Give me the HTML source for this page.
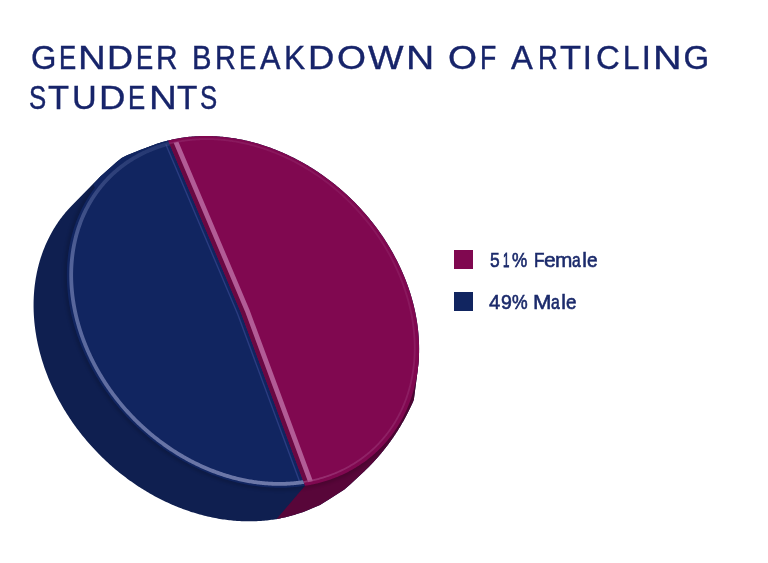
<!DOCTYPE html>
<html><head><meta charset="utf-8"><style>
html,body{margin:0;padding:0;background:#fff;}
body{width:768px;height:563px;position:relative;overflow:hidden;font-family:"Liberation Sans",sans-serif;-webkit-font-smoothing:antialiased;}
.tx{position:absolute;left:0;top:0;width:768px;height:563px;will-change:transform;}
svg{position:absolute;left:0;top:0;}
.w{position:absolute;color:#17246a;font-size:33px;line-height:33px;white-space:nowrap;-webkit-text-stroke:0.35px #17246a;transform-origin:0 0;}
.l{position:absolute;color:#1b2a6b;font-size:21px;line-height:21px;white-space:nowrap;transform-origin:0 0;-webkit-text-stroke:0.4px #1b2a6b;}
.lg{position:absolute;left:454px;width:19px;height:19px;}
</style></head><body>
<svg width="768" height="563" viewBox="0 0 768 563">
<defs>
<clipPath id="mc"><path d="M1604.56,-1034.36 L-994.69,2006.01 L525.49,3305.64 L3124.75,265.27Z"/></clipPath>
<clipPath id="nf"><path d="M304.93,485.82 L303.24,486.08 L301.55,486.32 L299.84,486.54 L298.13,486.74 L296.42,486.92 L294.70,487.09 L292.97,487.23 L291.24,487.36 L289.50,487.47 L287.76,487.56 L286.01,487.63 L284.26,487.69 L282.51,487.72 L280.75,487.74 L278.98,487.74 L277.22,487.72 L275.45,487.68 L273.67,487.62 L271.89,487.55 L270.11,487.46 L268.33,487.34 L266.54,487.21 L264.76,487.06 L262.97,486.90 L261.17,486.71 L259.38,486.51 L257.58,486.29 L255.78,486.05 L253.98,485.79 L252.18,485.51 L250.38,485.22 L248.58,484.90 L246.78,484.57 L244.97,484.22 L243.17,483.85 L241.37,483.47 L239.56,483.07 L237.76,482.64 L235.96,482.21 L234.16,481.75 L232.36,481.27 L230.56,480.78 L228.76,480.27 L226.96,479.74 L225.17,479.20 L223.37,478.63 L221.58,478.05 L219.79,477.45 L218.01,476.84 L216.22,476.21 L214.44,475.56 L212.67,474.89 L210.89,474.20 L209.12,473.50 L207.35,472.78 L205.59,472.05 L203.83,471.30 L202.07,470.53 L200.32,469.74 L198.57,468.94 L196.83,468.12 L195.09,467.29 L193.36,466.44 L191.63,465.57 L189.91,464.69 L188.19,463.79 L186.48,462.87 L184.77,461.94 L183.07,460.99 L181.38,460.03 L179.70,459.05 L178.02,458.06 L176.34,457.05 L174.68,456.03 L173.02,454.99 L171.37,453.93 L169.72,452.86 L168.09,451.78 L166.46,450.68 L164.84,449.57 L163.23,448.44 L161.62,447.30 L160.03,446.14 L158.44,444.97 L156.86,443.79 L155.29,442.59 L153.74,441.38 L152.18,440.16 L150.64,438.92 L149.11,437.67 L147.59,436.40 L146.08,435.12 L144.58,433.83 L143.09,432.53 L141.61,431.21 L140.14,429.88 L138.68,428.54 L137.23,427.19 L135.80,425.82 L134.37,424.44 L132.96,423.05 L131.56,421.65 L130.16,420.24 L128.79,418.82 L127.42,417.38 L126.06,415.93 L124.72,414.48 L123.39,413.01 L122.07,411.53 L120.77,410.04 L119.48,408.54 L118.20,407.03 L116.93,405.51 L115.68,403.98 L114.44,402.45 L113.21,400.90 L112.00,399.34 L110.80,397.77 L109.61,396.20 L108.44,394.61 L107.29,393.02 L106.14,391.42 L105.02,389.81 L103.90,388.19 L102.80,386.56 L101.72,384.93 L100.65,383.29 L99.59,381.64 L98.55,379.98 L97.53,378.32 L96.52,376.65 L95.53,374.97 L94.55,373.28 L93.58,371.59 L92.64,369.90 L91.70,368.19 L90.79,366.48 L89.89,364.77 L89.01,363.05 L88.14,361.32 L87.29,359.59 L86.45,357.86 L85.63,356.12 L84.83,354.37 L84.04,352.62 L83.28,350.87 L82.52,349.11 L81.79,347.35 L81.07,345.58 L80.37,343.81 L79.68,342.04 L79.02,340.26 L78.37,338.49 L77.73,336.70 L77.12,334.92 L76.52,333.13 L75.94,331.35 L75.38,329.55 L74.83,327.76 L74.30,325.97 L73.79,324.17 L73.30,322.38 L72.82,320.58 L72.37,318.78 L71.93,316.98 L71.51,315.18 L71.10,313.38 L70.72,311.58 L70.35,309.78 L70.00,307.98 L69.67,306.17 L69.36,304.38 L69.07,302.58 L68.79,300.78 L68.53,298.98 L68.29,297.19 L68.07,295.39 L67.87,293.60 L67.68,291.81 L67.52,290.02 L67.37,288.24 L67.24,286.45 L67.13,284.67 L67.03,282.90 L66.96,281.12 L66.91,279.35 L66.87,277.58 L66.85,275.82 L66.85,274.06 L66.87,272.30 L66.90,270.55 L66.96,268.80 L67.03,267.06 L67.12,265.32 L67.23,263.58 L67.36,261.85 L67.51,260.13 L67.68,258.41 L67.86,256.70 L68.06,254.99 L68.28,253.29 L68.52,251.60 L68.78,249.91 L69.06,248.22 L69.35,246.55 L69.66,244.88 L69.99,243.22 L70.34,241.57 L70.71,239.92 L71.09,238.28 L71.49,236.65 L71.91,235.02 L72.35,233.41 L72.81,231.80 L73.28,230.20 L73.77,228.61 L74.28,227.03 L74.81,225.46 L75.36,223.89 L75.92,222.34 L76.50,220.79 L77.10,219.26 L77.71,217.73 L78.34,216.21 L78.99,214.71 L79.66,213.21 L80.34,211.73 L81.04,210.25 L81.76,208.79 L82.50,207.33 L83.25,205.89 L84.02,204.46 L84.80,203.04 L85.60,201.63 L86.42,200.23 L87.26,198.85 L88.11,197.47 L88.97,196.11 L89.86,194.76 L90.76,193.42 L91.67,192.10 L92.60,190.79 L93.55,189.49 L94.51,188.20 L95.49,186.93 L96.48,185.67 L97.49,184.42 L98.52,183.18 L99.56,181.96 L100.61,180.76 L101.68,179.56 L102.76,178.38 L103.86,177.22 L104.98,176.07 L106.10,174.93 L107.25,173.81 L108.40,172.70 L109.57,171.61 L110.76,170.53 L111.96,169.46 L113.17,168.41 L114.39,167.38 L115.63,166.36 L116.89,165.36 L118.15,164.37 L119.43,163.39 L120.72,162.44 L122.03,161.50 L123.34,160.57 L124.67,159.66 L126.02,158.77 L127.37,157.89 L128.74,157.03 L130.12,156.18 L131.51,155.35 L132.91,154.54 L134.32,153.74 L135.75,152.96 L137.18,152.20 L138.63,151.45 L140.09,150.72 L141.56,150.01 L143.04,149.31 L144.53,148.64 L146.03,147.97 L147.54,147.33 L149.06,146.70 L150.59,146.09 L152.13,145.50 L153.68,144.92 L155.24,144.37 L156.81,143.83 L158.39,143.30 L159.97,142.80 L161.57,142.31 L163.17,141.84 L164.78,141.39 L166.40,140.96 L168.03,140.54 L241.00,313.00Z"/></clipPath>
<clipPath id="mf"><path d="M168.03,140.54 L169.75,140.13 L171.48,139.73 L173.22,139.35 L174.97,138.99 L176.72,138.65 L178.48,138.34 L180.25,138.04 L182.03,137.76 L183.81,137.50 L185.60,137.27 L187.40,137.05 L189.21,136.85 L191.02,136.68 L192.83,136.52 L194.65,136.39 L196.48,136.27 L198.31,136.18 L200.15,136.10 L202.00,136.05 L203.84,136.02 L205.70,136.00 L207.55,136.01 L209.41,136.04 L211.28,136.09 L213.15,136.16 L215.02,136.24 L216.89,136.35 L218.77,136.48 L220.65,136.63 L222.54,136.80 L224.42,137.00 L226.31,137.21 L228.20,137.44 L230.09,137.69 L231.98,137.96 L233.88,138.25 L235.77,138.57 L237.67,138.90 L239.57,139.25 L241.47,139.62 L243.36,140.02 L245.26,140.43 L247.16,140.86 L249.05,141.31 L250.95,141.78 L252.85,142.28 L254.74,142.79 L256.63,143.32 L258.52,143.87 L260.41,144.44 L262.30,145.03 L264.19,145.64 L266.07,146.27 L267.95,146.91 L269.82,147.58 L271.70,148.27 L273.57,148.97 L275.44,149.69 L277.30,150.44 L279.16,151.20 L281.01,151.98 L282.86,152.78 L284.71,153.59 L286.55,154.43 L288.39,155.28 L290.22,156.15 L292.04,157.04 L293.86,157.95 L295.68,158.88 L297.48,159.82 L299.28,160.78 L301.08,161.76 L302.87,162.75 L304.65,163.77 L306.42,164.80 L308.19,165.85 L309.95,166.91 L311.70,167.99 L313.44,169.09 L315.18,170.20 L316.90,171.33 L318.62,172.48 L320.33,173.65 L322.03,174.83 L323.72,176.02 L325.40,177.23 L327.07,178.46 L328.74,179.70 L330.39,180.96 L332.03,182.23 L333.66,183.52 L335.28,184.82 L336.90,186.14 L338.50,187.47 L340.08,188.82 L341.66,190.18 L343.23,191.56 L344.78,192.94 L346.32,194.35 L347.85,195.76 L349.37,197.19 L350.88,198.64 L352.37,200.09 L353.85,201.56 L355.32,203.04 L356.77,204.54 L358.22,206.05 L359.64,207.57 L361.06,209.10 L362.46,210.64 L363.85,212.20 L365.22,213.76 L366.58,215.34 L367.92,216.93 L369.25,218.53 L370.57,220.14 L371.87,221.77 L373.15,223.40 L374.43,225.04 L375.68,226.69 L376.92,228.36 L378.14,230.03 L379.35,231.71 L380.55,233.40 L381.72,235.10 L382.88,236.81 L384.03,238.53 L385.16,240.26 L386.27,241.99 L387.36,243.73 L388.44,245.48 L389.50,247.24 L390.55,249.01 L391.57,250.78 L392.58,252.56 L393.57,254.35 L394.55,256.14 L395.51,257.94 L396.45,259.75 L397.37,261.56 L398.27,263.38 L399.16,265.21 L400.03,267.04 L400.88,268.87 L401.71,270.71 L402.52,272.56 L403.31,274.40 L404.09,276.26 L404.85,278.12 L405.58,279.98 L406.30,281.84 L407.00,283.71 L407.68,285.58 L408.35,287.46 L408.99,289.34 L409.61,291.22 L410.22,293.10 L410.80,294.98 L411.37,296.87 L411.91,298.76 L412.44,300.65 L412.95,302.54 L413.43,304.44 L413.90,306.33 L414.35,308.22 L414.78,310.12 L415.18,312.01 L415.57,313.91 L415.94,315.80 L416.28,317.70 L416.61,319.59 L416.92,321.48 L417.21,323.37 L417.47,325.26 L417.72,327.15 L417.94,329.04 L418.15,330.92 L418.34,332.81 L418.50,334.69 L418.64,336.56 L418.77,338.44 L418.87,340.31 L418.96,342.18 L419.02,344.04 L419.06,345.90 L419.08,347.76 L419.09,349.61 L419.07,351.46 L419.03,353.31 L418.97,355.15 L418.89,356.98 L418.79,358.81 L418.67,360.63 L418.52,362.45 L418.36,364.26 L418.18,366.07 L417.98,367.87 L417.76,369.66 L417.51,371.45 L417.25,373.23 L416.97,375.00 L416.66,376.76 L416.34,378.52 L415.99,380.27 L415.63,382.01 L415.25,383.75 L414.84,385.47 L414.42,387.19 L413.97,388.90 L413.51,390.59 L413.03,392.28 L412.52,393.96 L412.00,395.64 L411.46,397.30 L410.90,398.95 L410.31,400.59 L409.71,402.22 L409.09,403.84 L408.45,405.45 L407.79,407.05 L407.11,408.64 L406.42,410.21 L405.70,411.78 L404.97,413.33 L404.21,414.87 L403.44,416.40 L402.65,417.92 L401.84,419.43 L401.01,420.92 L400.16,422.40 L399.30,423.87 L398.42,425.32 L397.52,426.76 L396.60,428.19 L395.66,429.61 L394.71,431.01 L393.73,432.39 L392.74,433.77 L391.74,435.13 L390.71,436.47 L389.67,437.80 L388.61,439.12 L387.54,440.42 L386.44,441.70 L385.34,442.97 L384.21,444.23 L383.07,445.47 L381.91,446.69 L380.74,447.90 L379.55,449.09 L378.34,450.27 L377.12,451.43 L375.88,452.58 L374.63,453.71 L373.36,454.82 L372.08,455.91 L370.78,456.99 L369.47,458.06 L368.14,459.10 L366.80,460.13 L365.44,461.14 L364.07,462.13 L362.69,463.11 L361.29,464.07 L359.87,465.01 L358.45,465.93 L357.01,466.83 L355.56,467.72 L354.09,468.59 L352.61,469.44 L351.12,470.27 L349.62,471.09 L348.10,471.88 L346.57,472.66 L345.03,473.42 L343.48,474.16 L341.91,474.88 L340.34,475.58 L338.75,476.26 L337.15,476.93 L335.55,477.57 L333.93,478.20 L332.30,478.80 L330.66,479.39 L329.00,479.96 L327.34,480.51 L325.67,481.03 L323.99,481.54 L322.30,482.03 L320.61,482.50 L318.90,482.95 L317.18,483.38 L315.46,483.79 L313.72,484.18 L311.98,484.55 L310.23,484.90 L308.47,485.23 L306.71,485.54 L304.93,485.82 L241.00,313.00Z"/></clipPath>
<clipPath id="ie"><path d="M378.06,446.05 L376.35,447.75 L374.60,449.41 L372.81,451.04 L371.00,452.63 L369.15,454.19 L367.28,455.71 L365.37,457.20 L363.43,458.65 L361.46,460.06 L359.46,461.44 L357.43,462.78 L355.38,464.08 L353.29,465.35 L351.18,466.58 L349.05,467.77 L346.88,468.92 L344.69,470.03 L342.48,471.10 L340.24,472.13 L337.97,473.13 L335.69,474.08 L333.38,474.99 L331.04,475.86 L328.69,476.70 L326.31,477.49 L323.92,478.24 L321.50,478.94 L319.07,479.61 L316.61,480.24 L314.14,480.82 L311.65,481.36 L309.14,481.86 L306.62,482.32 L304.08,482.74 L301.52,483.11 L298.95,483.44 L296.37,483.73 L293.77,483.97 L291.16,484.17 L288.54,484.33 L285.91,484.45 L283.26,484.53 L280.61,484.56 L277.95,484.55 L275.28,484.49 L272.60,484.40 L269.91,484.26 L267.22,484.07 L264.52,483.85 L261.81,483.58 L259.10,483.27 L256.39,482.92 L253.67,482.52 L250.95,482.09 L248.23,481.61 L245.51,481.08 L242.79,480.52 L240.06,479.91 L237.34,479.27 L234.62,478.58 L231.90,477.85 L229.19,477.08 L226.47,476.26 L223.76,475.41 L221.06,474.52 L218.36,473.58 L215.67,472.61 L212.98,471.60 L210.31,470.54 L207.63,469.45 L204.97,468.32 L202.32,467.15 L199.68,465.94 L197.05,464.69 L194.43,463.40 L191.82,462.08 L189.23,460.72 L186.64,459.32 L184.08,457.89 L181.52,456.42 L178.99,454.92 L176.46,453.37 L173.96,451.80 L171.47,450.19 L169.00,448.54 L166.55,446.86 L164.11,445.15 L161.70,443.40 L159.31,441.63 L156.93,439.82 L154.58,437.97 L152.25,436.10 L149.94,434.20 L147.66,432.26 L145.40,430.30 L143.16,428.30 L140.95,426.28 L138.76,424.23 L136.60,422.15 L134.47,420.04 L132.36,417.91 L130.28,415.75 L128.23,413.57 L126.21,411.36 L124.21,409.12 L122.25,406.86 L120.31,404.58 L118.41,402.27 L116.54,399.95 L114.69,397.60 L112.88,395.23 L111.10,392.83 L109.36,390.42 L107.65,387.99 L105.97,385.54 L104.32,383.07 L102.71,380.59 L101.14,378.08 L99.60,375.56 L98.09,373.03 L96.62,370.48 L95.19,367.91 L93.79,365.33 L92.43,362.74 L91.11,360.13 L89.83,357.52 L88.58,354.89 L87.37,352.25 L86.20,349.60 L85.07,346.94 L83.98,344.28 L82.93,341.60 L81.92,338.92 L80.95,336.23 L80.01,333.54 L79.12,330.84 L78.27,328.13 L77.46,325.42 L76.69,322.71 L75.96,319.99 L75.28,317.28 L74.63,314.56 L74.03,311.84 L73.47,309.12 L72.95,306.40 L72.47,303.68 L72.04,300.97 L71.64,298.26 L71.29,295.55 L70.99,292.84 L70.72,290.14 L70.50,287.45 L70.32,284.76 L70.18,282.07 L70.09,279.40 L70.04,276.73 L70.03,274.08 L70.07,271.43 L70.14,268.79 L70.26,266.16 L70.43,263.54 L70.63,260.94 L70.88,258.35 L71.17,255.77 L71.51,253.20 L71.89,250.65 L72.31,248.12 L72.77,245.60 L73.27,243.10 L73.82,240.61 L74.40,238.14 L75.03,235.69 L75.71,233.26 L76.42,230.85 L77.17,228.46 L77.97,226.09 L78.80,223.74 L79.68,221.41 L80.60,219.11 L81.55,216.82 L82.55,214.57 L83.59,212.33 L84.67,210.12 L85.78,207.94 L86.94,205.78 L88.13,203.65 L89.36,201.54 L90.63,199.46 L91.94,197.41 L93.29,195.39 L94.67,193.40 L96.09,191.43 L97.55,189.50 L99.04,187.60 L100.56,185.72 L102.13,183.88 L103.73,182.07 L105.36,180.29 L107.02,178.55 L108.72,176.84 L110.46,175.16 L112.22,173.52 L114.02,171.91 L115.85,170.33 L117.72,168.79 L119.61,167.29 L121.53,165.82 L123.49,164.38 L125.47,162.99 L127.48,161.63 L129.52,160.31 L131.59,159.02 L133.69,157.78 L135.82,156.57 L137.97,155.40 L140.14,154.27 L142.35,153.17 L144.57,152.12 L146.82,151.11 L149.10,150.14 L151.40,149.20 L153.72,148.31 L156.06,147.46 L158.43,146.65 L160.82,145.88 L163.22,145.15 L165.65,144.46 L168.09,143.81 L170.56,143.21 L173.04,142.65 L175.54,142.13 L178.05,141.65 L180.59,141.21 L183.13,140.82 L185.70,140.47 L188.27,140.16 L190.86,139.89 L193.47,139.67 L196.08,139.48 L198.71,139.35 L201.35,139.25 L204.00,139.20 L206.65,139.19 L209.32,139.22 L212.00,139.29 L214.68,139.41 L217.37,139.57 L220.07,139.78 L222.77,140.02 L225.47,140.31 L228.19,140.64 L230.90,141.02 L233.62,141.43 L236.34,141.89 L239.06,142.39 L241.78,142.94 L244.51,143.52 L247.23,144.15 L249.95,144.82 L252.67,145.53 L255.39,146.28 L258.11,147.07 L260.82,147.90 L263.52,148.77 L266.22,149.69 L268.92,150.64 L271.61,151.64 L274.29,152.67 L276.97,153.74 L279.63,154.86 L282.29,156.01 L284.93,157.20 L287.57,158.43 L290.20,159.69 L292.81,161.00 L295.41,162.34 L298.00,163.72 L300.58,165.13 L303.14,166.58 L305.68,168.07 L308.21,169.59 L310.73,171.15 L313.22,172.75 L315.70,174.37 L318.16,176.04 L320.61,177.73 L323.03,179.46 L325.43,181.22 L327.82,183.02 L330.18,184.84 L332.52,186.70 L334.84,188.59 L337.14,190.51 L339.41,192.46 L341.66,194.44 L343.88,196.45 L346.08,198.49 L348.25,200.55 L350.40,202.64 L352.52,204.76 L354.61,206.91 L356.68,209.08 L358.72,211.28 L360.73,213.50 L362.71,215.75 L364.66,218.02 L366.58,220.31 L368.47,222.63 L370.32,224.97 L372.15,227.33 L373.94,229.71 L375.71,232.11 L377.44,234.54 L379.13,236.98 L380.79,239.44 L382.42,241.91 L384.01,244.41 L385.57,246.92 L387.10,249.45 L388.58,251.99 L390.03,254.55 L391.45,257.12 L392.83,259.71 L394.17,262.31 L395.47,264.92 L396.73,267.54 L397.96,270.17 L399.15,272.82 L400.30,275.47 L401.41,278.13 L402.48,280.80 L403.52,283.48 L404.51,286.17 L405.46,288.86 L406.37,291.56 L407.24,294.26 L408.07,296.97 L408.86,299.68 L409.61,302.39 L410.32,305.11 L410.99,307.83 L411.61,310.55 L412.19,313.27 L412.73,315.98 L413.23,318.70 L413.69,321.42 L414.10,324.13 L414.47,326.84 L414.80,329.55 L415.09,332.25 L415.33,334.95 L415.53,337.64 L415.69,340.33 L415.80,343.01 L415.88,345.68 L415.90,348.34 L415.89,350.99 L415.83,353.64 L415.74,356.27 L415.59,358.89 L415.41,361.50 L415.18,364.10 L414.91,366.69 L414.60,369.26 L414.24,371.82 L413.84,374.36 L413.40,376.89 L412.92,379.40 L412.40,381.89 L411.83,384.37 L411.22,386.83 L410.57,389.27 L409.88,391.69 L409.14,394.09 L408.37,396.47 L407.55,398.83 L406.70,401.17 L405.80,403.49 L404.86,405.78 L403.89,408.05 L402.87,410.30 L401.81,412.52 L400.71,414.72 L399.58,416.89 L398.40,419.04 L397.19,421.15 L395.94,423.25 L394.65,425.31 L393.32,427.35 L391.96,429.35 L390.56,431.33 L389.12,433.28 L387.65,435.20 L386.14,437.09 L384.59,438.95 L383.01,440.77 L381.40,442.56 L379.75,444.33 L378.06,446.05Z"/></clipPath>
<clipPath id="sd"><path d="M348.90,482.65 L347.91,483.61 L346.91,484.56 L345.91,485.50 L344.89,486.43 L343.86,487.35 L342.83,488.26 L341.78,489.15 L340.72,490.04 L339.66,490.92 L338.58,491.78 L337.49,492.63 L336.40,493.47 L335.29,494.30 L334.18,495.12 L333.05,495.93 L331.92,496.72 L330.78,497.50 L329.62,498.28 L328.46,499.03 L327.29,499.78 L326.11,500.52 L324.93,501.24 L323.73,501.95 L322.53,502.65 L321.31,503.34 L320.09,504.02 L318.86,504.68 L317.62,505.33 L316.38,505.97 L315.12,506.59 L313.86,507.21 L312.59,507.81 L311.31,508.40 L310.03,508.97 L308.74,509.53 L307.44,510.09 L306.13,510.62 L304.81,511.15 L303.49,511.66 L302.16,512.16 L300.83,512.65 L299.49,513.12 L298.14,513.58 L296.78,514.03 L295.42,514.46 L294.05,514.89 L292.67,515.29 L291.29,515.69 L289.91,516.07 L288.51,516.44 L287.11,516.80 L285.71,517.14 L284.30,517.47 L282.88,517.79 L281.46,518.09 L280.03,518.38 L278.60,518.65 L277.16,518.92 L275.72,519.17 L274.27,519.40 L272.82,519.63 L271.36,519.84 L269.90,520.03 L268.44,520.21 L266.97,520.38 L265.49,520.54 L264.01,520.68 L262.53,520.81 L261.04,520.92 L259.55,521.02 L258.06,521.11 L256.56,521.19 L255.06,521.25 L253.56,521.29 L252.05,521.33 L250.54,521.35 L249.03,521.35 L247.51,521.35 L245.99,521.33 L244.47,521.29 L242.94,521.24 L241.42,521.18 L239.89,521.11 L238.36,521.02 L236.82,520.92 L235.29,520.80 L233.75,520.67 L232.21,520.53 L230.67,520.37 L229.13,520.20 L227.58,520.02 L226.04,519.82 L224.49,519.61 L222.95,519.39 L221.40,519.15 L219.85,518.90 L218.30,518.64 L216.75,518.36 L215.20,518.07 L213.65,517.77 L212.10,517.45 L210.55,517.12 L209.00,516.78 L207.45,516.42 L205.90,516.05 L204.35,515.67 L202.80,515.27 L201.25,514.86 L199.70,514.44 L198.16,514.00 L196.61,513.56 L195.07,513.09 L193.52,512.62 L191.98,512.13 L190.44,511.63 L188.90,511.12 L187.36,510.59 L185.83,510.05 L184.30,509.50 L182.76,508.94 L181.23,508.36 L179.71,507.77 L178.18,507.17 L176.66,506.56 L175.14,505.93 L173.62,505.29 L172.11,504.64 L170.60,503.98 L169.09,503.30 L167.59,502.61 L166.08,501.91 L164.59,501.20 L163.09,500.48 L161.60,499.74 L160.11,498.99 L158.63,498.23 L157.15,497.46 L155.68,496.68 L154.21,495.88 L152.74,495.07 L151.28,494.26 L149.82,493.43 L148.37,492.58 L146.92,491.73 L145.48,490.87 L144.04,489.99 L142.61,489.10 L141.18,488.21 L139.76,487.30 L138.34,486.38 L136.93,485.45 L135.52,484.51 L134.12,483.55 L132.73,482.59 L131.34,481.62 L129.96,480.63 L128.58,479.64 L127.22,478.63 L125.85,477.62 L124.50,476.59 L123.15,475.56 L121.80,474.51 L120.47,473.46 L119.14,472.39 L117.81,471.31 L116.50,470.23 L115.19,469.13 L113.89,468.03 L112.60,466.92 L111.31,465.79 L110.03,464.66 L108.76,463.52 L107.50,462.37 L106.24,461.21 L105.00,460.04 L103.76,458.86 L102.53,457.67 L101.31,456.48 L100.09,455.27 L98.89,454.06 L97.69,452.84 L96.50,451.61 L95.32,450.37 L94.15,449.12 L92.99,447.87 L91.84,446.61 L90.69,445.34 L89.56,444.06 L88.43,442.77 L87.32,441.48 L86.21,440.18 L85.11,438.87 L84.03,437.56 L82.95,436.23 L81.88,434.90 L80.82,433.57 L79.78,432.22 L78.74,430.87 L77.71,429.52 L76.69,428.15 L75.68,426.78 L74.69,425.41 L73.70,424.02 L72.72,422.64 L71.76,421.24 L70.80,419.84 L69.86,418.43 L68.92,417.02 L68.00,415.60 L67.09,414.18 L66.19,412.75 L65.30,411.32 L64.42,409.88 L63.55,408.43 L62.70,406.98 L61.85,405.53 L61.02,404.07 L60.19,402.61 L59.38,401.14 L58.58,399.67 L57.80,398.19 L57.02,396.71 L56.26,395.22 L55.50,393.73 L54.76,392.24 L54.04,390.74 L53.32,389.24 L52.61,387.74 L51.92,386.23 L51.24,384.72 L50.57,383.21 L49.92,381.69 L49.27,380.17 L48.64,378.65 L48.02,377.13 L47.42,375.60 L46.82,374.07 L46.24,372.53 L45.67,371.00 L45.12,369.46 L44.57,367.92 L44.04,366.38 L43.52,364.84 L43.02,363.30 L42.53,361.75 L42.05,360.20 L41.58,358.66 L41.13,357.11 L40.68,355.56 L40.26,354.00 L39.84,352.45 L39.44,350.90 L39.05,349.34 L38.67,347.79 L38.31,346.24 L37.96,344.68 L37.63,343.13 L37.30,341.57 L36.99,340.02 L36.70,338.46 L36.41,336.91 L36.14,335.35 L35.89,333.80 L35.64,332.25 L35.41,330.70 L35.20,329.15 L34.99,327.60 L34.80,326.05 L34.63,324.50 L34.47,322.95 L34.32,321.41 L34.18,319.87 L34.06,318.33 L33.95,316.79 L33.85,315.25 L33.77,313.72 L33.70,312.18 L33.65,310.65 L33.61,309.13 L33.58,307.60 L33.57,306.08 L33.57,304.56 L33.58,303.04 L33.60,301.53 L33.64,300.02 L33.70,298.51 L33.76,297.01 L33.85,295.51 L33.94,294.01 L34.05,292.52 L34.17,291.03 L34.30,289.55 L34.45,288.07 L34.61,286.59 L34.79,285.12 L34.97,283.65 L35.18,282.19 L35.39,280.73 L35.62,279.27 L35.86,277.82 L36.12,276.38 L36.39,274.94 L36.67,273.51 L36.96,272.08 L37.27,270.65 L37.59,269.24 L37.93,267.83 L38.28,266.42 L38.64,265.02 L39.01,263.62 L39.40,262.24 L39.80,260.85 L40.21,259.48 L40.64,258.11 L41.08,256.74 L41.53,255.39 L42.00,254.04 L42.48,252.70 L42.97,251.36 L43.47,250.03 L43.99,248.71 L44.52,247.39 L45.06,246.09 L45.62,244.79 L46.18,243.49 L46.77,242.21 L47.36,240.93 L47.96,239.66 L48.58,238.40 L49.21,237.15 L49.85,235.90 L50.51,234.66 L51.17,233.43 L51.85,232.21 L52.55,231.00 L53.25,229.80 L53.96,228.60 L54.69,227.41 L55.43,226.24 L56.18,225.07 L56.94,223.91 L57.72,222.76 L58.51,221.62 L59.30,220.48 L60.11,219.36 L60.93,218.25 L61.77,217.14 L62.61,216.05 L63.47,214.96 L64.33,213.89 L65.21,212.82 L66.10,211.77 L67.00,210.72 L67.91,209.69 L68.83,208.66 L69.76,207.65 L70.71,206.64 L71.66,205.65 L72.63,204.67 L73.60,203.69 L74.59,202.73 L75.58,201.78 L76.59,200.84 L77.61,199.91 L78.63,198.99 L79.67,198.08 L80.72,197.18 L81.78,196.30 L82.84,195.42 L83.92,194.56 L85.01,193.71 L86.10,192.87 L87.21,192.04 L88.32,191.22 L89.45,190.41 L90.58,189.62 L91.72,188.83 L92.87,188.06 L94.04,187.30 L95.20,186.56 L96.38,185.82 L97.57,185.10 L98.77,184.38 L99.97,183.69 L101.18,183.00 L102.41,182.32 L103.64,181.66 L104.87,181.01 L106.12,180.37 L107.37,179.75 L108.64,179.13 L109.91,178.53 L111.18,177.94 L112.47,177.37 L113.76,176.80 L115.06,176.25 L116.37,175.71 L117.68,175.19 L119.00,174.68 L120.33,174.18 L121.67,173.69 L123.01,173.22 L124.36,172.76 L125.72,172.31 L127.08,171.87 L128.45,171.45 L129.82,171.04 L131.20,170.65 L132.59,170.27 L133.99,169.90 L135.38,169.54 L136.79,169.20 L138.20,168.87 L139.62,168.55 L141.04,168.25 L142.47,167.96 L143.90,167.68 L145.33,167.42 L146.78,167.17 L148.22,166.93 L149.68,166.71 L151.13,166.50 L152.60,166.31 L154.06,166.12 L155.53,165.96 L157.01,165.80 L158.48,165.66 L159.97,165.53 L161.45,165.41 L162.94,165.31 L164.44,165.23 L165.94,165.15 L167.44,165.09 L168.94,165.04 L170.45,165.01 L171.96,164.99 L173.47,164.98 L174.99,164.99 L176.51,165.01 L178.03,165.05 L179.56,165.09 L181.08,165.16 L182.61,165.23 L184.14,165.32 L185.68,165.42 L187.21,165.54 L188.75,165.67 L190.29,165.81 L191.83,165.96 L193.37,166.13 L194.91,166.32 L196.46,166.51 L198.00,166.72 L199.55,166.95 L201.10,167.18 L202.65,167.43 L204.20,167.70 L205.75,167.98 L207.30,168.27 L208.85,168.57 L210.40,168.89 L211.95,169.22 L213.50,169.56 L215.05,169.92 L216.60,170.29 L218.15,170.67 L219.70,171.07 L221.25,171.48 L222.79,171.90 L224.34,172.33 L225.89,172.78 L227.43,173.24 L228.97,173.72 L230.52,174.21 L232.06,174.71 L233.60,175.22 L235.13,175.74 L236.67,176.28 L238.20,176.83 L239.73,177.40 L241.26,177.97 L242.79,178.56 L244.32,179.17 L245.84,179.78 L247.36,180.41 L248.87,181.05 L250.39,181.70 L251.90,182.36 L253.41,183.04 L254.91,183.72 L256.41,184.42 L257.91,185.14 L259.41,185.86 L260.90,186.60 L262.38,187.35 L263.87,188.11 L265.35,188.88 L266.82,189.66 L268.29,190.46 L269.76,191.26 L271.22,192.08 L272.68,192.91 L274.13,193.75 L275.58,194.61 L277.02,195.47 L278.46,196.35 L279.89,197.23 L281.32,198.13 L282.74,199.04 L284.16,199.96 L285.57,200.89 L286.97,201.83 L288.37,202.78 L289.77,203.75 L291.16,204.72 L292.54,205.70 L293.91,206.70 L295.28,207.70 L296.65,208.72 L298.00,209.75 L299.35,210.78 L300.70,211.83 L302.03,212.88 L303.36,213.95 L304.68,215.02 L306.00,216.11 L307.31,217.20 L308.61,218.31 L309.90,219.42 L311.19,220.55 L312.47,221.68 L313.74,222.82 L315.00,223.97 L316.25,225.13 L317.50,226.30 L318.74,227.48 L319.97,228.67 L321.19,229.86 L322.41,231.07 L323.61,232.28 L324.81,233.50 L326.00,234.73 L327.18,235.97 L328.35,237.22 L329.51,238.47 L330.66,239.73 L331.81,241.00 L332.94,242.28 L334.06,243.57 L335.18,244.86 L336.29,246.16 L337.38,247.47 L338.47,248.78 L339.55,250.10 L340.62,251.43 L341.67,252.77 L342.72,254.11 L343.76,255.46 L344.79,256.82 L345.81,258.18 L346.81,259.55 L347.81,260.93 L348.80,262.31 L349.77,263.70 L350.74,265.10 L351.70,266.50 L352.64,267.90 L353.57,269.32 L354.50,270.73 L355.41,272.16 L356.31,273.59 L357.20,275.02 L358.08,276.46 L358.95,277.90 L359.80,279.35 L360.65,280.81 L361.48,282.27 L362.30,283.73 L363.11,285.20 L363.91,286.67 L364.70,288.15 L365.48,289.63 L366.24,291.11 L366.99,292.60 L367.73,294.10 L368.46,295.59 L369.18,297.09 L369.88,298.60 L370.58,300.10 L371.26,301.61 L371.92,303.13 L372.58,304.65 L373.22,306.16 L373.86,307.69 L374.47,309.21 L375.08,310.74 L375.67,312.27 L376.26,313.80 L376.83,315.34 L377.38,316.87 L377.92,318.41 L378.46,319.95 L378.97,321.50 L379.48,323.04 L379.97,324.59 L380.45,326.13 L380.92,327.68 L381.37,329.23 L381.81,330.78 L382.24,332.33 L382.66,333.89 L383.06,335.44 L383.45,336.99 L383.82,338.55 L384.19,340.10 L384.54,341.66 L384.87,343.21 L385.20,344.77 L385.50,346.32 L385.80,347.88 L386.08,349.43 L386.35,350.98 L386.61,352.54 L386.85,354.09 L387.08,355.64 L387.30,357.19 L387.50,358.74 L387.69,360.29 L387.87,361.84 L388.03,363.38 L388.18,364.93 L388.32,366.47 L388.44,368.01 L388.55,369.55 L388.64,371.09 L388.73,372.62 L388.79,374.15 L388.85,375.68 L388.89,377.21 L388.92,378.74 L388.93,380.26 L388.93,381.78 L388.92,383.29 L388.89,384.81 L388.85,386.32 L388.80,387.83 L388.73,389.33 L388.65,390.83 L388.56,392.33 L388.45,393.82 L388.33,395.31 L388.20,396.79 L388.05,398.27 L387.89,399.75 L387.71,401.22 L387.52,402.69 L387.32,404.15 L387.11,405.61 L386.88,407.07 L386.64,408.51 L386.38,409.96 L386.11,411.40 L385.83,412.83 L385.54,414.26 L385.23,415.68 L384.90,417.10 L384.57,418.51 L384.22,419.92 L383.86,421.32 L383.49,422.71 L383.10,424.10 L382.70,425.48 L382.28,426.86 L381.86,428.23 L381.42,429.59 L380.96,430.95 L380.50,432.30 L380.02,433.64 L379.53,434.98 L379.03,436.31 L378.51,437.63 L377.98,438.94 L377.44,440.25 L376.88,441.55 L376.31,442.85 L375.73,444.13 L375.14,445.41 L374.53,446.68 L373.92,447.94 L373.29,449.19 L372.64,450.44 L371.99,451.68 L371.32,452.91 L370.64,454.13 L369.95,455.34 L369.25,456.54 L368.53,457.74 L367.81,458.92 L367.07,460.10 L366.32,461.27 L365.55,462.43 L364.78,463.58 L363.99,464.72 L363.19,465.86 L362.38,466.98 L361.56,468.09 L360.73,469.20 L359.89,470.29 L359.03,471.38 L358.17,472.45 L357.29,473.52 L356.40,474.57 L355.50,475.62 L354.59,476.65 L353.67,477.68 L352.73,478.69 L351.79,479.69 L350.84,480.69 L349.87,481.67Z"/><path d="M33.57,304.56 L33.58,303.04 L33.60,301.53 L33.64,300.02 L33.70,298.51 L33.76,297.01 L33.85,295.51 L33.94,294.01 L34.05,292.52 L34.17,291.03 L34.30,289.55 L34.45,288.07 L34.61,286.59 L34.79,285.12 L34.97,283.65 L35.18,282.19 L35.39,280.73 L35.62,279.27 L35.86,277.82 L36.12,276.38 L36.39,274.94 L36.67,273.51 L36.96,272.08 L37.27,270.65 L37.59,269.24 L37.93,267.83 L38.28,266.42 L38.64,265.02 L39.01,263.62 L39.40,262.24 L39.80,260.85 L40.21,259.48 L40.64,258.11 L41.08,256.74 L41.53,255.39 L42.00,254.04 L42.48,252.70 L42.97,251.36 L43.47,250.03 L43.99,248.71 L44.52,247.39 L45.06,246.09 L45.62,244.79 L46.18,243.49 L46.77,242.21 L47.36,240.93 L47.96,239.66 L48.58,238.40 L49.21,237.15 L49.85,235.90 L50.51,234.66 L51.17,233.43 L51.85,232.21 L52.55,231.00 L53.25,229.80 L53.96,228.60 L54.69,227.41 L55.43,226.24 L56.18,225.07 L56.94,223.91 L57.72,222.76 L58.51,221.62 L59.30,220.48 L60.11,219.36 L60.93,218.25 L61.77,217.14 L62.61,216.05 L63.47,214.96 L64.33,213.89 L65.21,212.82 L66.10,211.77 L67.00,210.72 L67.91,209.69 L68.83,208.66 L69.76,207.65 L70.71,206.64 L71.66,205.65 L72.63,204.67 L100.30,176.60 L111.00,167.00 L116.30,162.30 L121.60,158.00 L127.00,155.30 L150.27,146.22 L151.58,145.71 L152.90,145.21 L154.22,144.73 L155.55,144.26 L156.89,143.80 L158.24,143.35 L159.59,142.92 L160.94,142.50 L162.31,142.09 L163.68,141.70 L165.05,141.32 L166.43,140.95 L167.82,140.60 L169.21,140.25 L170.61,139.93 L172.01,139.61 L173.42,139.31 L174.84,139.02 L176.26,138.74 L177.68,138.48 L179.11,138.23 L180.55,137.99 L181.99,137.77 L183.43,137.56 L184.88,137.36 L186.33,137.18 L187.79,137.01 L189.25,136.85 L190.72,136.71 L192.19,136.58 L193.66,136.46 L195.14,136.35 L196.62,136.26 L198.11,136.19 L199.59,136.12 L201.08,136.07 L202.58,136.04 L204.08,136.01 L205.58,136.00 L207.08,136.01 L208.59,136.02 L210.09,136.05 L211.61,136.10 L213.12,136.15 L214.64,136.22 L216.15,136.31 L217.67,136.41 L219.20,136.52 L220.72,136.64 L222.24,136.78 L223.77,136.93 L225.30,137.09 L226.83,137.27 L228.36,137.46 L229.89,137.66 L231.43,137.88 L232.96,138.11 L234.50,138.35 L236.03,138.61 L237.57,138.88 L239.10,139.16 L240.64,139.46 L242.18,139.77 L243.71,140.09 L245.25,140.43 L246.79,140.77 L248.32,141.14 L249.86,141.51 L251.39,141.90 L252.93,142.30 L254.46,142.71 L256.00,143.14 L257.53,143.58 L259.06,144.03 L260.59,144.49 L262.12,144.97 L263.65,145.46 L265.17,145.96 L266.70,146.48 L268.22,147.01 L269.74,147.55 L271.26,148.10 L272.77,148.67 L274.28,149.25 L275.80,149.84 L277.30,150.44 L278.81,151.05 L280.31,151.68 L281.81,152.32 L283.31,152.97 L284.81,153.64 L286.30,154.31 L287.79,155.00 L289.27,155.70 L290.75,156.41 L292.23,157.13 L293.70,157.87 L295.17,158.62 L296.64,159.38 L298.10,160.15 L299.56,160.93 L301.01,161.72 L302.46,162.53 L303.90,163.34 L305.34,164.17 L306.78,165.01 L308.21,165.86 L309.63,166.72 L311.05,167.59 L312.47,168.47 L313.88,169.37 L315.28,170.27 L316.68,171.19 L318.07,172.12 L319.46,173.05 L320.84,174.00 L322.22,174.96 L323.59,175.93 L324.95,176.91 L326.31,177.89 L327.66,178.89 L329.00,179.90 L330.34,180.92 L331.67,181.95 L333.00,182.99 L334.31,184.04 L335.63,185.10 L336.93,186.17 L338.23,187.25 L339.51,188.33 L340.80,189.43 L342.07,190.54 L343.34,191.65 L344.60,192.78 L345.85,193.91 L347.09,195.05 L348.33,196.21 L349.55,197.37 L350.77,198.54 L351.98,199.71 L353.19,200.90 L354.38,202.09 L355.57,203.30 L356.75,204.51 L357.91,205.73 L359.07,206.96 L360.23,208.19 L361.37,209.44 L362.50,210.69 L363.63,211.95 L364.74,213.21 L365.85,214.49 L366.94,215.77 L368.03,217.06 L369.11,218.35 L370.17,219.66 L371.23,220.97 L372.28,222.29 L373.32,223.61 L374.35,224.94 L375.37,226.28 L376.38,227.62 L377.37,228.97 L378.36,230.33 L379.34,231.69 L380.31,233.06 L381.26,234.44 L382.21,235.82 L383.15,237.20 L384.07,238.60 L384.99,239.99 L385.89,241.40 L386.78,242.81 L387.66,244.22 L388.53,245.64 L389.39,247.06 L390.24,248.49 L391.08,249.93 L391.91,251.37 L392.72,252.81 L393.52,254.26 L394.31,255.71 L395.09,257.17 L395.86,258.63 L396.62,260.09 L397.37,261.56 L398.10,263.03 L398.82,264.51 L399.53,265.99 L400.23,267.47 L400.91,268.96 L401.59,270.45 L402.25,271.94 L402.90,273.44 L403.54,274.94 L404.16,276.44 L404.78,277.94 L405.38,279.45 L405.97,280.96 L406.54,282.47 L407.10,283.99 L407.66,285.50 L408.19,287.02 L408.72,288.54 L409.23,290.06 L409.73,291.59 L410.22,293.11 L410.70,294.64 L411.16,296.17 L411.61,297.70 L412.05,299.23 L412.47,300.76 L412.88,302.29 L413.28,303.82 L413.66,305.36 L414.03,306.89 L414.39,308.42 L414.74,309.96 L415.07,311.49 L415.39,313.03 L415.70,314.56 L415.99,316.10 L416.27,317.63 L416.54,319.16 L416.79,320.70 L417.03,322.23 L417.26,323.76 L417.48,325.29 L417.68,326.82 L417.86,328.35 L418.04,329.88 L418.20,331.40 L418.35,332.93 L418.48,334.45 L418.60,335.97 L418.71,337.49 L418.80,339.01 L418.88,340.52 L418.95,342.04 L419.00,343.55 L419.05,345.06 L419.07,346.56 L419.09,348.07 L419.09,349.57 L419.07,351.06 L419.05,352.56 L419.01,354.05 L418.95,355.54 L418.89,357.02 L418.81,358.51 L418.71,359.98 L418.60,361.46 L418.48,362.93 L418.35,364.40 L418.20,365.86 L418.04,367.32 L417.87,368.77 L417.68,370.22 L413.83,399.83 L413.61,400.35 L413.39,400.87 L413.16,401.38 L412.93,401.90 L412.71,402.41 L412.48,402.93 L412.25,403.44 L412.02,403.95 L411.78,404.46 L411.55,404.97 L411.31,405.48 L411.08,405.99 L410.84,406.50 L410.60,407.01 L410.36,407.51 L410.12,408.02 L409.88,408.53 L409.63,409.03 L409.39,409.53 L409.14,410.04 L408.89,410.54 L408.65,411.04 L408.40,411.54 L408.15,412.04 L407.89,412.54 L407.64,413.04 L407.39,413.54 L407.13,414.04 L406.87,414.53 L406.62,415.03 L406.36,415.52 L406.10,416.02 L405.84,416.51 L405.57,417.00 L405.31,417.49 L405.04,417.98 L404.78,418.47 L404.51,418.96 L404.24,419.45 L403.97,419.94 L403.70,420.42 L403.43,420.91 L403.16,421.39 L402.88,421.88 L402.61,422.36 L402.33,422.85 L402.05,423.33 L401.77,423.81 L401.49,424.29 L401.21,424.77 L400.93,425.25 L400.65,425.72 L400.36,426.20 L400.08,426.68 L399.79,427.15 L399.50,427.63 L399.21,428.10 L398.92,428.57 L398.63,429.04 L398.34,429.52 L398.04,429.99 L397.75,430.45 L397.45,430.92 L397.16,431.39 L396.86,431.86 L396.56,432.32 L396.26,432.79 L395.96,433.25 L395.65,433.72 L395.35,434.18 L395.04,434.64 L394.74,435.10 L394.43,435.56 L394.12,436.02 L393.81,436.48 L393.50,436.93 L393.19,437.39 L392.88,437.85 L392.56,438.30 L392.25,438.76 L391.93,439.21 L391.61,439.66 L391.29,440.11 L390.97,440.56 L390.65,441.01 L390.33,441.46 L390.01,441.91 L389.68,442.35 L389.36,442.80 L389.03,443.24 L388.70,443.69 L388.38,444.13 L388.05,444.57 L387.72,445.01 L387.38,445.45 L387.05,445.89 L386.72,446.33 L386.38,446.77 L386.05,447.20 L385.71,447.64 L385.37,448.08 L385.03,448.51 L384.69,448.94 L384.35,449.37 L384.01,449.80 L383.66,450.23 L383.32,450.66 L382.97,451.09 L382.62,451.52 L382.28,451.95 L381.93,452.37 L381.58,452.80 L381.23,453.22 L380.87,453.64 L380.52,454.06 L380.17,454.48 L379.81,454.90 L379.45,455.32 L379.10,455.74 L378.74,456.16 L378.38,456.57 L378.02,456.99 L377.65,457.40 L377.29,457.81 L376.93,458.23 L376.56,458.64 L376.20,459.05 L375.83,459.46 L375.46,459.86 L375.09,460.27 L374.72,460.68 L374.35,461.08 L373.98,461.49 L373.60,461.89 L373.23,462.29 L372.86,462.69 L372.48,463.09 L372.10,463.49 L371.72,463.89 L371.34,464.29 L370.96,464.68 L370.58,465.08 L370.20,465.47 L369.81,465.87 L369.43,466.26 L369.04,466.65 L368.66,467.04 L368.27,467.43 L367.88,467.82 L367.49,468.20 L367.10,468.59 L366.71,468.97 L366.32,469.36 L365.92,469.74 L365.53,470.12 L365.13,470.50 L364.74,470.88 L364.34,471.26 L363.94,471.64 L363.54,472.02 L350.70,484.10 L344.40,489.40 L330.00,498.80 L320.00,505.10 L303.35,511.90 L296.78,514.03 L295.42,514.46 L294.05,514.89 L292.67,515.29 L291.29,515.69 L289.91,516.07 L288.51,516.44 L287.11,516.80 L285.71,517.14 L284.30,517.47 L282.88,517.79 L281.46,518.09 L280.03,518.38 L278.60,518.65 L277.16,518.92 L275.72,519.17 L274.27,519.40 L272.82,519.63 L271.36,519.84 L269.90,520.03 L268.44,520.21 L266.97,520.38 L265.49,520.54 L264.01,520.68 L262.53,520.81 L261.04,520.92 L259.55,521.02 L258.06,521.11 L256.56,521.19 L255.06,521.25 L253.56,521.29 L252.05,521.33 L250.54,521.35 L249.03,521.35 L247.51,521.35 L245.99,521.33 L244.47,521.29 L242.94,521.24 L241.42,521.18 L239.89,521.11 L238.36,521.02 L236.82,520.92 L235.29,520.80 L233.75,520.67 L232.21,520.53 L230.67,520.37 L229.13,520.20 L227.58,520.02 L226.04,519.82 L224.49,519.61 L222.95,519.39 L221.40,519.15 L219.85,518.90 L218.30,518.64 L216.75,518.36 L215.20,518.07 L213.65,517.77 L212.10,517.45 L210.55,517.12 L209.00,516.78 L207.45,516.42 L205.90,516.05 L204.35,515.67 L202.80,515.27 L201.25,514.86 L199.70,514.44 L198.16,514.00 L196.61,513.56 L195.07,513.09 L193.52,512.62 L191.98,512.13 L190.44,511.63 L188.90,511.12 L187.36,510.59 L185.83,510.05 L184.30,509.50 L182.76,508.94 L181.23,508.36 L179.71,507.77 L178.18,507.17 L176.66,506.56 L175.14,505.93 L173.62,505.29 L172.11,504.64 L170.60,503.98 L169.09,503.30 L167.59,502.61 L166.08,501.91 L164.59,501.20 L163.09,500.48 L161.60,499.74 L160.11,498.99 L158.63,498.23 L157.15,497.46 L155.68,496.68 L154.21,495.88 L152.74,495.07 L151.28,494.26 L149.82,493.43 L148.37,492.58 L146.92,491.73 L145.48,490.87 L144.04,489.99 L142.61,489.10 L141.18,488.21 L139.76,487.30 L138.34,486.38 L136.93,485.45 L135.52,484.51 L134.12,483.55 L132.73,482.59 L131.34,481.62 L129.96,480.63 L128.58,479.64 L127.22,478.63 L125.85,477.62 L124.50,476.59 L123.15,475.56 L121.80,474.51 L120.47,473.46 L119.14,472.39 L117.81,471.31 L116.50,470.23 L115.19,469.13 L113.89,468.03 L112.60,466.92 L111.31,465.79 L110.03,464.66 L108.76,463.52 L107.50,462.37 L106.24,461.21 L105.00,460.04 L103.76,458.86 L102.53,457.67 L101.31,456.48 L100.09,455.27 L98.89,454.06 L97.69,452.84 L96.50,451.61 L95.32,450.37 L94.15,449.12 L92.99,447.87 L91.84,446.61 L90.69,445.34 L89.56,444.06 L88.43,442.77 L87.32,441.48 L86.21,440.18 L85.11,438.87 L84.03,437.56 L82.95,436.23 L81.88,434.90 L80.82,433.57 L79.78,432.22 L78.74,430.87 L77.71,429.52 L76.69,428.15 L75.68,426.78 L74.69,425.41 L73.70,424.02 L72.72,422.64 L71.76,421.24 L70.80,419.84 L69.86,418.43 L68.92,417.02 L68.00,415.60 L67.09,414.18 L66.19,412.75 L65.30,411.32 L64.42,409.88 L63.55,408.43 L62.70,406.98 L61.85,405.53 L61.02,404.07 L60.19,402.61 L59.38,401.14 L58.58,399.67 L57.80,398.19 L57.02,396.71 L56.26,395.22 L55.50,393.73 L54.76,392.24 L54.04,390.74 L53.32,389.24 L52.61,387.74 L51.92,386.23 L51.24,384.72 L50.57,383.21 L49.92,381.69 L49.27,380.17 L48.64,378.65 L48.02,377.13 L47.42,375.60 L46.82,374.07 L46.24,372.53 L45.67,371.00 L45.12,369.46 L44.57,367.92 L44.04,366.38 L43.52,364.84 L43.02,363.30 L42.53,361.75 L42.05,360.20 L41.58,358.66 L41.13,357.11 L40.68,355.56 L40.26,354.00 L39.84,352.45 L39.44,350.90 L39.05,349.34 L38.67,347.79 L38.31,346.24 L37.96,344.68 L37.63,343.13 L37.30,341.57 L36.99,340.02 L36.70,338.46 L36.41,336.91 L36.14,335.35 L35.89,333.80 L35.64,332.25 L35.41,330.70 L35.20,329.15 L34.99,327.60 L34.80,326.05 L34.63,324.50 L34.47,322.95 L34.32,321.41 L34.18,319.87 L34.06,318.33 L33.95,316.79 L33.85,315.25 L33.77,313.72 L33.70,312.18 L33.65,310.65 L33.61,309.13 L33.58,307.60 L33.57,306.08Z"/></clipPath>
<clipPath id="rb"><rect x="250" y="300" width="300" height="300"/></clipPath>
<filter id="b1" color-interpolation-filters="sRGB" x="-20%" y="-20%" width="140%" height="140%"><feGaussianBlur stdDeviation="1.6"/></filter>
<filter id="b07" color-interpolation-filters="sRGB" x="-20%" y="-20%" width="140%" height="140%"><feGaussianBlur stdDeviation="0.75"/></filter>
<filter id="b0" color-interpolation-filters="sRGB" x="-20%" y="-20%" width="140%" height="140%"><feGaussianBlur stdDeviation="0.5"/></filter>
<linearGradient id="gn" gradientUnits="userSpaceOnUse" x1="0" y1="140" x2="0" y2="485">
<stop offset="0" stop-color="#5a6aa0" stop-opacity="0.25"/><stop offset="0.12" stop-color="#5a6aa0" stop-opacity="0.45"/><stop offset="0.35" stop-color="#5f6ea3" stop-opacity="0.85"/><stop offset="1" stop-color="#6d78a8" stop-opacity="1"/></linearGradient>
<linearGradient id="gm" gradientUnits="userSpaceOnUse" x1="353.2" y1="200.9" x2="132.7" y2="422.8">
<stop offset="0" stop-color="#a0407f" stop-opacity="0.25"/><stop offset="0.6" stop-color="#a0407f" stop-opacity="0.5"/><stop offset="1" stop-color="#b0558f" stop-opacity="0.95"/></linearGradient>
</defs>
<g fill="#0f1f50"><path d="M33.57,304.56 L33.58,303.04 L33.60,301.53 L33.64,300.02 L33.70,298.51 L33.76,297.01 L33.85,295.51 L33.94,294.01 L34.05,292.52 L34.17,291.03 L34.30,289.55 L34.45,288.07 L34.61,286.59 L34.79,285.12 L34.97,283.65 L35.18,282.19 L35.39,280.73 L35.62,279.27 L35.86,277.82 L36.12,276.38 L36.39,274.94 L36.67,273.51 L36.96,272.08 L37.27,270.65 L37.59,269.24 L37.93,267.83 L38.28,266.42 L38.64,265.02 L39.01,263.62 L39.40,262.24 L39.80,260.85 L40.21,259.48 L40.64,258.11 L41.08,256.74 L41.53,255.39 L42.00,254.04 L42.48,252.70 L42.97,251.36 L43.47,250.03 L43.99,248.71 L44.52,247.39 L45.06,246.09 L45.62,244.79 L46.18,243.49 L46.77,242.21 L47.36,240.93 L47.96,239.66 L48.58,238.40 L49.21,237.15 L49.85,235.90 L50.51,234.66 L51.17,233.43 L51.85,232.21 L52.55,231.00 L53.25,229.80 L53.96,228.60 L54.69,227.41 L55.43,226.24 L56.18,225.07 L56.94,223.91 L57.72,222.76 L58.51,221.62 L59.30,220.48 L60.11,219.36 L60.93,218.25 L61.77,217.14 L62.61,216.05 L63.47,214.96 L64.33,213.89 L65.21,212.82 L66.10,211.77 L67.00,210.72 L67.91,209.69 L68.83,208.66 L69.76,207.65 L70.71,206.64 L71.66,205.65 L72.63,204.67 L100.30,176.60 L111.00,167.00 L116.30,162.30 L121.60,158.00 L127.00,155.30 L150.27,146.22 L151.58,145.71 L152.90,145.21 L154.22,144.73 L155.55,144.26 L156.89,143.80 L158.24,143.35 L159.59,142.92 L160.94,142.50 L162.31,142.09 L163.68,141.70 L165.05,141.32 L166.43,140.95 L167.82,140.60 L169.21,140.25 L170.61,139.93 L172.01,139.61 L173.42,139.31 L174.84,139.02 L176.26,138.74 L177.68,138.48 L179.11,138.23 L180.55,137.99 L181.99,137.77 L183.43,137.56 L184.88,137.36 L186.33,137.18 L187.79,137.01 L189.25,136.85 L190.72,136.71 L192.19,136.58 L193.66,136.46 L195.14,136.35 L196.62,136.26 L198.11,136.19 L199.59,136.12 L201.08,136.07 L202.58,136.04 L204.08,136.01 L205.58,136.00 L207.08,136.01 L208.59,136.02 L210.09,136.05 L211.61,136.10 L213.12,136.15 L214.64,136.22 L216.15,136.31 L217.67,136.41 L219.20,136.52 L220.72,136.64 L222.24,136.78 L223.77,136.93 L225.30,137.09 L226.83,137.27 L228.36,137.46 L229.89,137.66 L231.43,137.88 L232.96,138.11 L234.50,138.35 L236.03,138.61 L237.57,138.88 L239.10,139.16 L240.64,139.46 L242.18,139.77 L243.71,140.09 L245.25,140.43 L246.79,140.77 L248.32,141.14 L249.86,141.51 L251.39,141.90 L252.93,142.30 L254.46,142.71 L256.00,143.14 L257.53,143.58 L259.06,144.03 L260.59,144.49 L262.12,144.97 L263.65,145.46 L265.17,145.96 L266.70,146.48 L268.22,147.01 L269.74,147.55 L271.26,148.10 L272.77,148.67 L274.28,149.25 L275.80,149.84 L277.30,150.44 L278.81,151.05 L280.31,151.68 L281.81,152.32 L283.31,152.97 L284.81,153.64 L286.30,154.31 L287.79,155.00 L289.27,155.70 L290.75,156.41 L292.23,157.13 L293.70,157.87 L295.17,158.62 L296.64,159.38 L298.10,160.15 L299.56,160.93 L301.01,161.72 L302.46,162.53 L303.90,163.34 L305.34,164.17 L306.78,165.01 L308.21,165.86 L309.63,166.72 L311.05,167.59 L312.47,168.47 L313.88,169.37 L315.28,170.27 L316.68,171.19 L318.07,172.12 L319.46,173.05 L320.84,174.00 L322.22,174.96 L323.59,175.93 L324.95,176.91 L326.31,177.89 L327.66,178.89 L329.00,179.90 L330.34,180.92 L331.67,181.95 L333.00,182.99 L334.31,184.04 L335.63,185.10 L336.93,186.17 L338.23,187.25 L339.51,188.33 L340.80,189.43 L342.07,190.54 L343.34,191.65 L344.60,192.78 L345.85,193.91 L347.09,195.05 L348.33,196.21 L349.55,197.37 L350.77,198.54 L351.98,199.71 L353.19,200.90 L354.38,202.09 L355.57,203.30 L356.75,204.51 L357.91,205.73 L359.07,206.96 L360.23,208.19 L361.37,209.44 L362.50,210.69 L363.63,211.95 L364.74,213.21 L365.85,214.49 L366.94,215.77 L368.03,217.06 L369.11,218.35 L370.17,219.66 L371.23,220.97 L372.28,222.29 L373.32,223.61 L374.35,224.94 L375.37,226.28 L376.38,227.62 L377.37,228.97 L378.36,230.33 L379.34,231.69 L380.31,233.06 L381.26,234.44 L382.21,235.82 L383.15,237.20 L384.07,238.60 L384.99,239.99 L385.89,241.40 L386.78,242.81 L387.66,244.22 L388.53,245.64 L389.39,247.06 L390.24,248.49 L391.08,249.93 L391.91,251.37 L392.72,252.81 L393.52,254.26 L394.31,255.71 L395.09,257.17 L395.86,258.63 L396.62,260.09 L397.37,261.56 L398.10,263.03 L398.82,264.51 L399.53,265.99 L400.23,267.47 L400.91,268.96 L401.59,270.45 L402.25,271.94 L402.90,273.44 L403.54,274.94 L404.16,276.44 L404.78,277.94 L405.38,279.45 L405.97,280.96 L406.54,282.47 L407.10,283.99 L407.66,285.50 L408.19,287.02 L408.72,288.54 L409.23,290.06 L409.73,291.59 L410.22,293.11 L410.70,294.64 L411.16,296.17 L411.61,297.70 L412.05,299.23 L412.47,300.76 L412.88,302.29 L413.28,303.82 L413.66,305.36 L414.03,306.89 L414.39,308.42 L414.74,309.96 L415.07,311.49 L415.39,313.03 L415.70,314.56 L415.99,316.10 L416.27,317.63 L416.54,319.16 L416.79,320.70 L417.03,322.23 L417.26,323.76 L417.48,325.29 L417.68,326.82 L417.86,328.35 L418.04,329.88 L418.20,331.40 L418.35,332.93 L418.48,334.45 L418.60,335.97 L418.71,337.49 L418.80,339.01 L418.88,340.52 L418.95,342.04 L419.00,343.55 L419.05,345.06 L419.07,346.56 L419.09,348.07 L419.09,349.57 L419.07,351.06 L419.05,352.56 L419.01,354.05 L418.95,355.54 L418.89,357.02 L418.81,358.51 L418.71,359.98 L418.60,361.46 L418.48,362.93 L418.35,364.40 L418.20,365.86 L418.04,367.32 L417.87,368.77 L417.68,370.22 L413.83,399.83 L413.61,400.35 L413.39,400.87 L413.16,401.38 L412.93,401.90 L412.71,402.41 L412.48,402.93 L412.25,403.44 L412.02,403.95 L411.78,404.46 L411.55,404.97 L411.31,405.48 L411.08,405.99 L410.84,406.50 L410.60,407.01 L410.36,407.51 L410.12,408.02 L409.88,408.53 L409.63,409.03 L409.39,409.53 L409.14,410.04 L408.89,410.54 L408.65,411.04 L408.40,411.54 L408.15,412.04 L407.89,412.54 L407.64,413.04 L407.39,413.54 L407.13,414.04 L406.87,414.53 L406.62,415.03 L406.36,415.52 L406.10,416.02 L405.84,416.51 L405.57,417.00 L405.31,417.49 L405.04,417.98 L404.78,418.47 L404.51,418.96 L404.24,419.45 L403.97,419.94 L403.70,420.42 L403.43,420.91 L403.16,421.39 L402.88,421.88 L402.61,422.36 L402.33,422.85 L402.05,423.33 L401.77,423.81 L401.49,424.29 L401.21,424.77 L400.93,425.25 L400.65,425.72 L400.36,426.20 L400.08,426.68 L399.79,427.15 L399.50,427.63 L399.21,428.10 L398.92,428.57 L398.63,429.04 L398.34,429.52 L398.04,429.99 L397.75,430.45 L397.45,430.92 L397.16,431.39 L396.86,431.86 L396.56,432.32 L396.26,432.79 L395.96,433.25 L395.65,433.72 L395.35,434.18 L395.04,434.64 L394.74,435.10 L394.43,435.56 L394.12,436.02 L393.81,436.48 L393.50,436.93 L393.19,437.39 L392.88,437.85 L392.56,438.30 L392.25,438.76 L391.93,439.21 L391.61,439.66 L391.29,440.11 L390.97,440.56 L390.65,441.01 L390.33,441.46 L390.01,441.91 L389.68,442.35 L389.36,442.80 L389.03,443.24 L388.70,443.69 L388.38,444.13 L388.05,444.57 L387.72,445.01 L387.38,445.45 L387.05,445.89 L386.72,446.33 L386.38,446.77 L386.05,447.20 L385.71,447.64 L385.37,448.08 L385.03,448.51 L384.69,448.94 L384.35,449.37 L384.01,449.80 L383.66,450.23 L383.32,450.66 L382.97,451.09 L382.62,451.52 L382.28,451.95 L381.93,452.37 L381.58,452.80 L381.23,453.22 L380.87,453.64 L380.52,454.06 L380.17,454.48 L379.81,454.90 L379.45,455.32 L379.10,455.74 L378.74,456.16 L378.38,456.57 L378.02,456.99 L377.65,457.40 L377.29,457.81 L376.93,458.23 L376.56,458.64 L376.20,459.05 L375.83,459.46 L375.46,459.86 L375.09,460.27 L374.72,460.68 L374.35,461.08 L373.98,461.49 L373.60,461.89 L373.23,462.29 L372.86,462.69 L372.48,463.09 L372.10,463.49 L371.72,463.89 L371.34,464.29 L370.96,464.68 L370.58,465.08 L370.20,465.47 L369.81,465.87 L369.43,466.26 L369.04,466.65 L368.66,467.04 L368.27,467.43 L367.88,467.82 L367.49,468.20 L367.10,468.59 L366.71,468.97 L366.32,469.36 L365.92,469.74 L365.53,470.12 L365.13,470.50 L364.74,470.88 L364.34,471.26 L363.94,471.64 L363.54,472.02 L350.70,484.10 L344.40,489.40 L330.00,498.80 L320.00,505.10 L303.35,511.90 L296.78,514.03 L295.42,514.46 L294.05,514.89 L292.67,515.29 L291.29,515.69 L289.91,516.07 L288.51,516.44 L287.11,516.80 L285.71,517.14 L284.30,517.47 L282.88,517.79 L281.46,518.09 L280.03,518.38 L278.60,518.65 L277.16,518.92 L275.72,519.17 L274.27,519.40 L272.82,519.63 L271.36,519.84 L269.90,520.03 L268.44,520.21 L266.97,520.38 L265.49,520.54 L264.01,520.68 L262.53,520.81 L261.04,520.92 L259.55,521.02 L258.06,521.11 L256.56,521.19 L255.06,521.25 L253.56,521.29 L252.05,521.33 L250.54,521.35 L249.03,521.35 L247.51,521.35 L245.99,521.33 L244.47,521.29 L242.94,521.24 L241.42,521.18 L239.89,521.11 L238.36,521.02 L236.82,520.92 L235.29,520.80 L233.75,520.67 L232.21,520.53 L230.67,520.37 L229.13,520.20 L227.58,520.02 L226.04,519.82 L224.49,519.61 L222.95,519.39 L221.40,519.15 L219.85,518.90 L218.30,518.64 L216.75,518.36 L215.20,518.07 L213.65,517.77 L212.10,517.45 L210.55,517.12 L209.00,516.78 L207.45,516.42 L205.90,516.05 L204.35,515.67 L202.80,515.27 L201.25,514.86 L199.70,514.44 L198.16,514.00 L196.61,513.56 L195.07,513.09 L193.52,512.62 L191.98,512.13 L190.44,511.63 L188.90,511.12 L187.36,510.59 L185.83,510.05 L184.30,509.50 L182.76,508.94 L181.23,508.36 L179.71,507.77 L178.18,507.17 L176.66,506.56 L175.14,505.93 L173.62,505.29 L172.11,504.64 L170.60,503.98 L169.09,503.30 L167.59,502.61 L166.08,501.91 L164.59,501.20 L163.09,500.48 L161.60,499.74 L160.11,498.99 L158.63,498.23 L157.15,497.46 L155.68,496.68 L154.21,495.88 L152.74,495.07 L151.28,494.26 L149.82,493.43 L148.37,492.58 L146.92,491.73 L145.48,490.87 L144.04,489.99 L142.61,489.10 L141.18,488.21 L139.76,487.30 L138.34,486.38 L136.93,485.45 L135.52,484.51 L134.12,483.55 L132.73,482.59 L131.34,481.62 L129.96,480.63 L128.58,479.64 L127.22,478.63 L125.85,477.62 L124.50,476.59 L123.15,475.56 L121.80,474.51 L120.47,473.46 L119.14,472.39 L117.81,471.31 L116.50,470.23 L115.19,469.13 L113.89,468.03 L112.60,466.92 L111.31,465.79 L110.03,464.66 L108.76,463.52 L107.50,462.37 L106.24,461.21 L105.00,460.04 L103.76,458.86 L102.53,457.67 L101.31,456.48 L100.09,455.27 L98.89,454.06 L97.69,452.84 L96.50,451.61 L95.32,450.37 L94.15,449.12 L92.99,447.87 L91.84,446.61 L90.69,445.34 L89.56,444.06 L88.43,442.77 L87.32,441.48 L86.21,440.18 L85.11,438.87 L84.03,437.56 L82.95,436.23 L81.88,434.90 L80.82,433.57 L79.78,432.22 L78.74,430.87 L77.71,429.52 L76.69,428.15 L75.68,426.78 L74.69,425.41 L73.70,424.02 L72.72,422.64 L71.76,421.24 L70.80,419.84 L69.86,418.43 L68.92,417.02 L68.00,415.60 L67.09,414.18 L66.19,412.75 L65.30,411.32 L64.42,409.88 L63.55,408.43 L62.70,406.98 L61.85,405.53 L61.02,404.07 L60.19,402.61 L59.38,401.14 L58.58,399.67 L57.80,398.19 L57.02,396.71 L56.26,395.22 L55.50,393.73 L54.76,392.24 L54.04,390.74 L53.32,389.24 L52.61,387.74 L51.92,386.23 L51.24,384.72 L50.57,383.21 L49.92,381.69 L49.27,380.17 L48.64,378.65 L48.02,377.13 L47.42,375.60 L46.82,374.07 L46.24,372.53 L45.67,371.00 L45.12,369.46 L44.57,367.92 L44.04,366.38 L43.52,364.84 L43.02,363.30 L42.53,361.75 L42.05,360.20 L41.58,358.66 L41.13,357.11 L40.68,355.56 L40.26,354.00 L39.84,352.45 L39.44,350.90 L39.05,349.34 L38.67,347.79 L38.31,346.24 L37.96,344.68 L37.63,343.13 L37.30,341.57 L36.99,340.02 L36.70,338.46 L36.41,336.91 L36.14,335.35 L35.89,333.80 L35.64,332.25 L35.41,330.70 L35.20,329.15 L34.99,327.60 L34.80,326.05 L34.63,324.50 L34.47,322.95 L34.32,321.41 L34.18,319.87 L34.06,318.33 L33.95,316.79 L33.85,315.25 L33.77,313.72 L33.70,312.18 L33.65,310.65 L33.61,309.13 L33.58,307.60 L33.57,306.08Z"/></g>
<g fill="#580639" clip-path="url(#mc)"><path d="M33.57,304.56 L33.58,303.04 L33.60,301.53 L33.64,300.02 L33.70,298.51 L33.76,297.01 L33.85,295.51 L33.94,294.01 L34.05,292.52 L34.17,291.03 L34.30,289.55 L34.45,288.07 L34.61,286.59 L34.79,285.12 L34.97,283.65 L35.18,282.19 L35.39,280.73 L35.62,279.27 L35.86,277.82 L36.12,276.38 L36.39,274.94 L36.67,273.51 L36.96,272.08 L37.27,270.65 L37.59,269.24 L37.93,267.83 L38.28,266.42 L38.64,265.02 L39.01,263.62 L39.40,262.24 L39.80,260.85 L40.21,259.48 L40.64,258.11 L41.08,256.74 L41.53,255.39 L42.00,254.04 L42.48,252.70 L42.97,251.36 L43.47,250.03 L43.99,248.71 L44.52,247.39 L45.06,246.09 L45.62,244.79 L46.18,243.49 L46.77,242.21 L47.36,240.93 L47.96,239.66 L48.58,238.40 L49.21,237.15 L49.85,235.90 L50.51,234.66 L51.17,233.43 L51.85,232.21 L52.55,231.00 L53.25,229.80 L53.96,228.60 L54.69,227.41 L55.43,226.24 L56.18,225.07 L56.94,223.91 L57.72,222.76 L58.51,221.62 L59.30,220.48 L60.11,219.36 L60.93,218.25 L61.77,217.14 L62.61,216.05 L63.47,214.96 L64.33,213.89 L65.21,212.82 L66.10,211.77 L67.00,210.72 L67.91,209.69 L68.83,208.66 L69.76,207.65 L70.71,206.64 L71.66,205.65 L72.63,204.67 L100.30,176.60 L111.00,167.00 L116.30,162.30 L121.60,158.00 L127.00,155.30 L150.27,146.22 L151.58,145.71 L152.90,145.21 L154.22,144.73 L155.55,144.26 L156.89,143.80 L158.24,143.35 L159.59,142.92 L160.94,142.50 L162.31,142.09 L163.68,141.70 L165.05,141.32 L166.43,140.95 L167.82,140.60 L169.21,140.25 L170.61,139.93 L172.01,139.61 L173.42,139.31 L174.84,139.02 L176.26,138.74 L177.68,138.48 L179.11,138.23 L180.55,137.99 L181.99,137.77 L183.43,137.56 L184.88,137.36 L186.33,137.18 L187.79,137.01 L189.25,136.85 L190.72,136.71 L192.19,136.58 L193.66,136.46 L195.14,136.35 L196.62,136.26 L198.11,136.19 L199.59,136.12 L201.08,136.07 L202.58,136.04 L204.08,136.01 L205.58,136.00 L207.08,136.01 L208.59,136.02 L210.09,136.05 L211.61,136.10 L213.12,136.15 L214.64,136.22 L216.15,136.31 L217.67,136.41 L219.20,136.52 L220.72,136.64 L222.24,136.78 L223.77,136.93 L225.30,137.09 L226.83,137.27 L228.36,137.46 L229.89,137.66 L231.43,137.88 L232.96,138.11 L234.50,138.35 L236.03,138.61 L237.57,138.88 L239.10,139.16 L240.64,139.46 L242.18,139.77 L243.71,140.09 L245.25,140.43 L246.79,140.77 L248.32,141.14 L249.86,141.51 L251.39,141.90 L252.93,142.30 L254.46,142.71 L256.00,143.14 L257.53,143.58 L259.06,144.03 L260.59,144.49 L262.12,144.97 L263.65,145.46 L265.17,145.96 L266.70,146.48 L268.22,147.01 L269.74,147.55 L271.26,148.10 L272.77,148.67 L274.28,149.25 L275.80,149.84 L277.30,150.44 L278.81,151.05 L280.31,151.68 L281.81,152.32 L283.31,152.97 L284.81,153.64 L286.30,154.31 L287.79,155.00 L289.27,155.70 L290.75,156.41 L292.23,157.13 L293.70,157.87 L295.17,158.62 L296.64,159.38 L298.10,160.15 L299.56,160.93 L301.01,161.72 L302.46,162.53 L303.90,163.34 L305.34,164.17 L306.78,165.01 L308.21,165.86 L309.63,166.72 L311.05,167.59 L312.47,168.47 L313.88,169.37 L315.28,170.27 L316.68,171.19 L318.07,172.12 L319.46,173.05 L320.84,174.00 L322.22,174.96 L323.59,175.93 L324.95,176.91 L326.31,177.89 L327.66,178.89 L329.00,179.90 L330.34,180.92 L331.67,181.95 L333.00,182.99 L334.31,184.04 L335.63,185.10 L336.93,186.17 L338.23,187.25 L339.51,188.33 L340.80,189.43 L342.07,190.54 L343.34,191.65 L344.60,192.78 L345.85,193.91 L347.09,195.05 L348.33,196.21 L349.55,197.37 L350.77,198.54 L351.98,199.71 L353.19,200.90 L354.38,202.09 L355.57,203.30 L356.75,204.51 L357.91,205.73 L359.07,206.96 L360.23,208.19 L361.37,209.44 L362.50,210.69 L363.63,211.95 L364.74,213.21 L365.85,214.49 L366.94,215.77 L368.03,217.06 L369.11,218.35 L370.17,219.66 L371.23,220.97 L372.28,222.29 L373.32,223.61 L374.35,224.94 L375.37,226.28 L376.38,227.62 L377.37,228.97 L378.36,230.33 L379.34,231.69 L380.31,233.06 L381.26,234.44 L382.21,235.82 L383.15,237.20 L384.07,238.60 L384.99,239.99 L385.89,241.40 L386.78,242.81 L387.66,244.22 L388.53,245.64 L389.39,247.06 L390.24,248.49 L391.08,249.93 L391.91,251.37 L392.72,252.81 L393.52,254.26 L394.31,255.71 L395.09,257.17 L395.86,258.63 L396.62,260.09 L397.37,261.56 L398.10,263.03 L398.82,264.51 L399.53,265.99 L400.23,267.47 L400.91,268.96 L401.59,270.45 L402.25,271.94 L402.90,273.44 L403.54,274.94 L404.16,276.44 L404.78,277.94 L405.38,279.45 L405.97,280.96 L406.54,282.47 L407.10,283.99 L407.66,285.50 L408.19,287.02 L408.72,288.54 L409.23,290.06 L409.73,291.59 L410.22,293.11 L410.70,294.64 L411.16,296.17 L411.61,297.70 L412.05,299.23 L412.47,300.76 L412.88,302.29 L413.28,303.82 L413.66,305.36 L414.03,306.89 L414.39,308.42 L414.74,309.96 L415.07,311.49 L415.39,313.03 L415.70,314.56 L415.99,316.10 L416.27,317.63 L416.54,319.16 L416.79,320.70 L417.03,322.23 L417.26,323.76 L417.48,325.29 L417.68,326.82 L417.86,328.35 L418.04,329.88 L418.20,331.40 L418.35,332.93 L418.48,334.45 L418.60,335.97 L418.71,337.49 L418.80,339.01 L418.88,340.52 L418.95,342.04 L419.00,343.55 L419.05,345.06 L419.07,346.56 L419.09,348.07 L419.09,349.57 L419.07,351.06 L419.05,352.56 L419.01,354.05 L418.95,355.54 L418.89,357.02 L418.81,358.51 L418.71,359.98 L418.60,361.46 L418.48,362.93 L418.35,364.40 L418.20,365.86 L418.04,367.32 L417.87,368.77 L417.68,370.22 L413.83,399.83 L413.61,400.35 L413.39,400.87 L413.16,401.38 L412.93,401.90 L412.71,402.41 L412.48,402.93 L412.25,403.44 L412.02,403.95 L411.78,404.46 L411.55,404.97 L411.31,405.48 L411.08,405.99 L410.84,406.50 L410.60,407.01 L410.36,407.51 L410.12,408.02 L409.88,408.53 L409.63,409.03 L409.39,409.53 L409.14,410.04 L408.89,410.54 L408.65,411.04 L408.40,411.54 L408.15,412.04 L407.89,412.54 L407.64,413.04 L407.39,413.54 L407.13,414.04 L406.87,414.53 L406.62,415.03 L406.36,415.52 L406.10,416.02 L405.84,416.51 L405.57,417.00 L405.31,417.49 L405.04,417.98 L404.78,418.47 L404.51,418.96 L404.24,419.45 L403.97,419.94 L403.70,420.42 L403.43,420.91 L403.16,421.39 L402.88,421.88 L402.61,422.36 L402.33,422.85 L402.05,423.33 L401.77,423.81 L401.49,424.29 L401.21,424.77 L400.93,425.25 L400.65,425.72 L400.36,426.20 L400.08,426.68 L399.79,427.15 L399.50,427.63 L399.21,428.10 L398.92,428.57 L398.63,429.04 L398.34,429.52 L398.04,429.99 L397.75,430.45 L397.45,430.92 L397.16,431.39 L396.86,431.86 L396.56,432.32 L396.26,432.79 L395.96,433.25 L395.65,433.72 L395.35,434.18 L395.04,434.64 L394.74,435.10 L394.43,435.56 L394.12,436.02 L393.81,436.48 L393.50,436.93 L393.19,437.39 L392.88,437.85 L392.56,438.30 L392.25,438.76 L391.93,439.21 L391.61,439.66 L391.29,440.11 L390.97,440.56 L390.65,441.01 L390.33,441.46 L390.01,441.91 L389.68,442.35 L389.36,442.80 L389.03,443.24 L388.70,443.69 L388.38,444.13 L388.05,444.57 L387.72,445.01 L387.38,445.45 L387.05,445.89 L386.72,446.33 L386.38,446.77 L386.05,447.20 L385.71,447.64 L385.37,448.08 L385.03,448.51 L384.69,448.94 L384.35,449.37 L384.01,449.80 L383.66,450.23 L383.32,450.66 L382.97,451.09 L382.62,451.52 L382.28,451.95 L381.93,452.37 L381.58,452.80 L381.23,453.22 L380.87,453.64 L380.52,454.06 L380.17,454.48 L379.81,454.90 L379.45,455.32 L379.10,455.74 L378.74,456.16 L378.38,456.57 L378.02,456.99 L377.65,457.40 L377.29,457.81 L376.93,458.23 L376.56,458.64 L376.20,459.05 L375.83,459.46 L375.46,459.86 L375.09,460.27 L374.72,460.68 L374.35,461.08 L373.98,461.49 L373.60,461.89 L373.23,462.29 L372.86,462.69 L372.48,463.09 L372.10,463.49 L371.72,463.89 L371.34,464.29 L370.96,464.68 L370.58,465.08 L370.20,465.47 L369.81,465.87 L369.43,466.26 L369.04,466.65 L368.66,467.04 L368.27,467.43 L367.88,467.82 L367.49,468.20 L367.10,468.59 L366.71,468.97 L366.32,469.36 L365.92,469.74 L365.53,470.12 L365.13,470.50 L364.74,470.88 L364.34,471.26 L363.94,471.64 L363.54,472.02 L350.70,484.10 L344.40,489.40 L330.00,498.80 L320.00,505.10 L303.35,511.90 L296.78,514.03 L295.42,514.46 L294.05,514.89 L292.67,515.29 L291.29,515.69 L289.91,516.07 L288.51,516.44 L287.11,516.80 L285.71,517.14 L284.30,517.47 L282.88,517.79 L281.46,518.09 L280.03,518.38 L278.60,518.65 L277.16,518.92 L275.72,519.17 L274.27,519.40 L272.82,519.63 L271.36,519.84 L269.90,520.03 L268.44,520.21 L266.97,520.38 L265.49,520.54 L264.01,520.68 L262.53,520.81 L261.04,520.92 L259.55,521.02 L258.06,521.11 L256.56,521.19 L255.06,521.25 L253.56,521.29 L252.05,521.33 L250.54,521.35 L249.03,521.35 L247.51,521.35 L245.99,521.33 L244.47,521.29 L242.94,521.24 L241.42,521.18 L239.89,521.11 L238.36,521.02 L236.82,520.92 L235.29,520.80 L233.75,520.67 L232.21,520.53 L230.67,520.37 L229.13,520.20 L227.58,520.02 L226.04,519.82 L224.49,519.61 L222.95,519.39 L221.40,519.15 L219.85,518.90 L218.30,518.64 L216.75,518.36 L215.20,518.07 L213.65,517.77 L212.10,517.45 L210.55,517.12 L209.00,516.78 L207.45,516.42 L205.90,516.05 L204.35,515.67 L202.80,515.27 L201.25,514.86 L199.70,514.44 L198.16,514.00 L196.61,513.56 L195.07,513.09 L193.52,512.62 L191.98,512.13 L190.44,511.63 L188.90,511.12 L187.36,510.59 L185.83,510.05 L184.30,509.50 L182.76,508.94 L181.23,508.36 L179.71,507.77 L178.18,507.17 L176.66,506.56 L175.14,505.93 L173.62,505.29 L172.11,504.64 L170.60,503.98 L169.09,503.30 L167.59,502.61 L166.08,501.91 L164.59,501.20 L163.09,500.48 L161.60,499.74 L160.11,498.99 L158.63,498.23 L157.15,497.46 L155.68,496.68 L154.21,495.88 L152.74,495.07 L151.28,494.26 L149.82,493.43 L148.37,492.58 L146.92,491.73 L145.48,490.87 L144.04,489.99 L142.61,489.10 L141.18,488.21 L139.76,487.30 L138.34,486.38 L136.93,485.45 L135.52,484.51 L134.12,483.55 L132.73,482.59 L131.34,481.62 L129.96,480.63 L128.58,479.64 L127.22,478.63 L125.85,477.62 L124.50,476.59 L123.15,475.56 L121.80,474.51 L120.47,473.46 L119.14,472.39 L117.81,471.31 L116.50,470.23 L115.19,469.13 L113.89,468.03 L112.60,466.92 L111.31,465.79 L110.03,464.66 L108.76,463.52 L107.50,462.37 L106.24,461.21 L105.00,460.04 L103.76,458.86 L102.53,457.67 L101.31,456.48 L100.09,455.27 L98.89,454.06 L97.69,452.84 L96.50,451.61 L95.32,450.37 L94.15,449.12 L92.99,447.87 L91.84,446.61 L90.69,445.34 L89.56,444.06 L88.43,442.77 L87.32,441.48 L86.21,440.18 L85.11,438.87 L84.03,437.56 L82.95,436.23 L81.88,434.90 L80.82,433.57 L79.78,432.22 L78.74,430.87 L77.71,429.52 L76.69,428.15 L75.68,426.78 L74.69,425.41 L73.70,424.02 L72.72,422.64 L71.76,421.24 L70.80,419.84 L69.86,418.43 L68.92,417.02 L68.00,415.60 L67.09,414.18 L66.19,412.75 L65.30,411.32 L64.42,409.88 L63.55,408.43 L62.70,406.98 L61.85,405.53 L61.02,404.07 L60.19,402.61 L59.38,401.14 L58.58,399.67 L57.80,398.19 L57.02,396.71 L56.26,395.22 L55.50,393.73 L54.76,392.24 L54.04,390.74 L53.32,389.24 L52.61,387.74 L51.92,386.23 L51.24,384.72 L50.57,383.21 L49.92,381.69 L49.27,380.17 L48.64,378.65 L48.02,377.13 L47.42,375.60 L46.82,374.07 L46.24,372.53 L45.67,371.00 L45.12,369.46 L44.57,367.92 L44.04,366.38 L43.52,364.84 L43.02,363.30 L42.53,361.75 L42.05,360.20 L41.58,358.66 L41.13,357.11 L40.68,355.56 L40.26,354.00 L39.84,352.45 L39.44,350.90 L39.05,349.34 L38.67,347.79 L38.31,346.24 L37.96,344.68 L37.63,343.13 L37.30,341.57 L36.99,340.02 L36.70,338.46 L36.41,336.91 L36.14,335.35 L35.89,333.80 L35.64,332.25 L35.41,330.70 L35.20,329.15 L34.99,327.60 L34.80,326.05 L34.63,324.50 L34.47,322.95 L34.32,321.41 L34.18,319.87 L34.06,318.33 L33.95,316.79 L33.85,315.25 L33.77,313.72 L33.70,312.18 L33.65,310.65 L33.61,309.13 L33.58,307.60 L33.57,306.08Z"/></g>
<g clip-path="url(#sd)"><path d="M380.33,448.31 L379.37,449.27 L378.39,450.22 L377.40,451.17 L376.40,452.10 L375.40,453.02 L374.38,453.93 L373.35,454.83 L372.31,455.72 L371.26,456.60 L370.21,457.46 L369.14,458.32 L368.06,459.16 L366.97,459.99 L365.88,460.82 L364.77,461.63 L363.66,462.43 L362.53,463.21 L361.40,463.99 L360.26,464.75 L359.11,465.51 L357.95,466.25 L356.78,466.98 L355.60,467.69 L354.42,468.40 L353.22,469.09 L352.02,469.78 L350.81,470.45 L349.59,471.10 L348.36,471.75 L347.13,472.38 L345.88,473.00 L344.63,473.61 L343.37,474.21 L342.11,474.79 L340.83,475.36 L339.55,475.92 L338.26,476.47 L336.97,477.00 L335.66,477.53 L334.35,478.04 L333.04,478.53 L331.71,479.02 L330.38,479.49 L329.04,479.95 L327.70,480.39 L326.35,480.82 L324.99,481.24 L323.63,481.65 L322.26,482.04 L320.88,482.42 L319.50,482.79 L318.11,483.15 L316.72,483.49 L315.32,483.82 L313.92,484.13 L312.51,484.44 L311.10,484.73 L309.68,485.00 L308.25,485.27 L306.82,485.52 L305.39,485.75 L303.95,485.98 L302.50,486.19 L301.05,486.38 L299.60,486.57 L298.14,486.74 L296.68,486.89 L295.22,487.04 L293.75,487.17 L292.27,487.29 L290.79,487.39 L289.31,487.48 L287.83,487.56 L286.34,487.62 L284.85,487.67 L283.36,487.71 L281.86,487.73 L280.36,487.74 L278.85,487.74 L277.35,487.72 L275.84,487.69 L274.33,487.65 L272.81,487.59 L271.30,487.52 L269.78,487.44 L268.26,487.34 L266.74,487.23 L265.22,487.10 L263.69,486.97 L262.16,486.82 L260.63,486.65 L259.10,486.48 L257.57,486.29 L256.04,486.08 L254.51,485.86 L252.97,485.63 L251.44,485.39 L249.90,485.13 L248.37,484.86 L246.83,484.58 L245.29,484.29 L243.76,483.98 L242.22,483.65 L240.68,483.32 L239.15,482.97 L237.61,482.61 L236.07,482.23 L234.54,481.85 L233.00,481.45 L231.47,481.03 L229.94,480.61 L228.40,480.17 L226.87,479.71 L225.34,479.25 L223.82,478.77 L222.29,478.28 L220.76,477.78 L219.24,477.26 L217.72,476.74 L216.20,476.20 L214.68,475.64 L213.16,475.08 L211.65,474.50 L210.14,473.91 L208.63,473.31 L207.12,472.69 L205.62,472.06 L204.12,471.42 L202.62,470.77 L201.13,470.11 L199.64,469.43 L198.15,468.74 L196.66,468.04 L195.18,467.33 L193.70,466.61 L192.23,465.87 L190.76,465.13 L189.30,464.37 L187.83,463.60 L186.38,462.82 L184.92,462.02 L183.47,461.22 L182.03,460.40 L180.59,459.57 L179.15,458.74 L177.72,457.89 L176.30,457.02 L174.88,456.15 L173.46,455.27 L172.06,454.38 L170.65,453.47 L169.25,452.56 L167.86,451.63 L166.47,450.69 L165.09,449.74 L163.72,448.79 L162.35,447.82 L160.98,446.84 L159.63,445.85 L158.27,444.85 L156.93,443.84 L155.59,442.82 L154.26,441.79 L152.94,440.75 L151.62,439.70 L150.31,438.64 L149.01,437.58 L147.71,436.50 L146.42,435.41 L145.14,434.31 L143.86,433.21 L142.60,432.09 L141.34,430.97 L140.09,429.83 L138.84,428.69 L137.61,427.54 L136.38,426.38 L135.16,425.21 L133.95,424.03 L132.75,422.84 L131.55,421.65 L130.37,420.45 L129.19,419.23 L128.02,418.02 L126.86,416.79 L125.71,415.55 L124.57,414.31 L123.43,413.06 L122.31,411.80 L121.19,410.53 L120.09,409.26 L118.99,407.97 L117.90,406.69 L116.83,405.39 L115.76,404.09 L114.70,402.78 L113.65,401.46 L112.61,400.13 L111.59,398.80 L110.57,397.47 L109.56,396.12 L108.56,394.77 L107.57,393.42 L106.59,392.05 L105.63,390.68 L104.67,389.31 L103.72,387.93 L102.79,386.54 L101.86,385.15 L100.95,383.75 L100.05,382.35 L99.15,380.94 L98.27,379.52 L97.40,378.11 L96.54,376.68 L95.69,375.25 L94.85,373.82 L94.03,372.38 L93.21,370.94 L92.41,369.49 L91.62,368.04 L90.84,366.58 L90.07,365.12 L89.31,363.65 L88.57,362.18 L87.83,360.71 L87.11,359.24 L86.40,357.76 L85.71,356.27 L85.02,354.79 L84.35,353.30 L83.68,351.80 L83.03,350.31 L82.40,348.81 L81.77,347.31 L81.16,345.80 L80.56,344.29 L79.97,342.78 L79.39,341.27 L78.83,339.76 L78.28,338.24 L77.74,336.72 L77.21,335.20 L76.70,333.68 L76.20,332.16 L75.71,330.63 L75.24,329.11 L74.78,327.58 L74.33,326.05 L73.89,324.52 L73.46,322.99 L73.05,321.45 L72.66,319.92 L72.27,318.39 L71.90,316.85 L71.54,315.32 L71.19,313.79 L70.86,312.25 L70.54,310.72 L70.24,309.18 L69.94,307.65 L69.66,306.11 L69.39,304.58 L69.14,303.05 L68.90,301.51 L68.67,299.98 L68.46,298.45 L68.26,296.92 L68.07,295.39 L67.90,293.87 L67.73,292.34 L67.59,290.82 L67.45,289.29 L67.33,287.77 L67.23,286.25 L67.13,284.73 L67.05,283.22 L66.98,281.71 L66.93,280.20 L66.89,278.69 L66.86,277.18 L66.85,275.68 L66.85,274.18 L66.86,272.68 L66.89,271.18 L66.93,269.69 L66.98,268.21 L67.05,266.72 L67.13,265.24 L67.22,263.76 L67.33,262.29 L67.45,260.82 L67.58,259.35 L67.73,257.89 L67.89,256.43 L68.06,254.97 L68.25,253.52 L68.45,252.08 L68.67,250.64 L68.89,249.20 L69.13,247.77 L69.39,246.34 L69.65,244.92 L69.93,243.50 L70.23,242.09 L70.53,240.69 L70.85,239.29 L71.18,237.89 L71.53,236.50 L71.89,235.12 L72.26,233.74 L72.64,232.37 L73.04,231.00 L73.45,229.64 L73.88,228.29 L74.31,226.94 L74.76,225.60 L75.22,224.27 L75.70,222.94 L76.19,221.62 L76.69,220.30 L77.20,219.00 L77.72,217.70 L78.26,216.41 L78.81,215.12 L79.38,213.84 L79.95,212.57 L80.54,211.31 L81.14,210.05 L81.75,208.81 L82.38,207.57 L83.02,206.33 L83.66,205.11 L84.33,203.90 L85.00,202.69 L85.69,201.49 L86.38,200.30 L87.09,199.12 L87.81,197.94 L88.55,196.78 L89.29,195.62 L90.05,194.47 L90.82,193.34 L91.60,192.21 L92.39,191.09 L93.19,189.98 L94.01,188.87 L94.83,187.78 L95.67,186.70 L96.52,185.63 L97.38,184.56 L98.25,183.51 L99.13,182.46 L100.02,181.43 L100.92,180.41 L101.84,179.39 L102.76,178.39 L103.70,177.39 L104.64,176.41 L105.60,175.44 L106.57,174.47 L107.54,173.52 L108.53,172.58 L109.53,171.65 L110.54,170.72 L111.56,169.81 L112.58,168.91 L113.62,168.03 L114.67,167.15 L115.73,166.28 L116.80,165.43 L117.87,164.58 L118.96,163.75 L120.06,162.93 L121.16,162.12 L122.28,161.32 L123.40,160.53 L124.53,159.75 L125.68,158.99 L126.83,158.24 L127.99,157.50 L129.15,156.77 L130.33,156.05 L131.52,155.34 L132.71,154.65 L133.91,153.97 L135.13,153.30 L136.34,152.64 L137.57,152.00 L138.81,151.36 L140.05,150.74 L141.30,150.13 L142.56,149.54 L143.83,148.95 L145.10,148.38 L146.38,147.82 L147.67,147.27 L148.97,146.74 L150.27,146.22 L151.58,145.71 L152.90,145.21 L154.22,144.73 L155.55,144.26 L156.89,143.80 L158.24,143.35 L159.59,142.92 L160.94,142.50 L162.31,142.09 L163.68,141.70 L165.05,141.32 L166.43,140.95 L167.82,140.60 L169.21,140.25 L170.61,139.93 L172.01,139.61 L173.42,139.31 L174.84,139.02 L176.26,138.74 L177.68,138.48 L179.11,138.23 L180.55,137.99 L181.99,137.77 L183.43,137.56 L184.88,137.36 L186.33,137.18 L187.79,137.01 L189.25,136.85 L190.72,136.71 L192.19,136.58 L193.66,136.46 L195.14,136.35 L196.62,136.26 L198.11,136.19 L199.59,136.12 L201.08,136.07 L202.58,136.04 L204.08,136.01 L205.58,136.00 L207.08,136.01 L208.59,136.02 L210.09,136.05 L211.61,136.10 L213.12,136.15 L214.64,136.22 L216.15,136.31 L217.67,136.41 L219.20,136.52 L220.72,136.64 L222.24,136.78 L223.77,136.93 L225.30,137.09 L226.83,137.27 L228.36,137.46 L229.89,137.66 L231.43,137.88 L232.96,138.11 L234.50,138.35 L236.03,138.61 L237.57,138.88 L239.10,139.16 L240.64,139.46 L242.18,139.77 L243.71,140.09 L245.25,140.43 L246.79,140.77 L248.32,141.14 L249.86,141.51 L251.39,141.90 L252.93,142.30 L254.46,142.71 L256.00,143.14 L257.53,143.58 L259.06,144.03 L260.59,144.49 L262.12,144.97 L263.65,145.46 L265.17,145.96 L266.70,146.48 L268.22,147.01 L269.74,147.55 L271.26,148.10 L272.77,148.67 L274.28,149.25 L275.80,149.84 L277.30,150.44 L278.81,151.05 L280.31,151.68 L281.81,152.32 L283.31,152.97 L284.81,153.64 L286.30,154.31 L287.79,155.00 L289.27,155.70 L290.75,156.41 L292.23,157.13 L293.70,157.87 L295.17,158.62 L296.64,159.38 L298.10,160.15 L299.56,160.93 L301.01,161.72 L302.46,162.53 L303.90,163.34 L305.34,164.17 L306.78,165.01 L308.21,165.86 L309.63,166.72 L311.05,167.59 L312.47,168.47 L313.88,169.37 L315.28,170.27 L316.68,171.19 L318.07,172.12 L319.46,173.05 L320.84,174.00 L322.22,174.96 L323.59,175.93 L324.95,176.91 L326.31,177.89 L327.66,178.89 L329.00,179.90 L330.34,180.92 L331.67,181.95 L333.00,182.99 L334.31,184.04 L335.63,185.10 L336.93,186.17 L338.23,187.25 L339.51,188.33 L340.80,189.43 L342.07,190.54 L343.34,191.65 L344.60,192.78 L345.85,193.91 L347.09,195.05 L348.33,196.21 L349.55,197.37 L350.77,198.54 L351.98,199.71 L353.19,200.90 L354.38,202.09 L355.57,203.30 L356.75,204.51 L357.91,205.73 L359.07,206.96 L360.23,208.19 L361.37,209.44 L362.50,210.69 L363.63,211.95 L364.74,213.21 L365.85,214.49 L366.94,215.77 L368.03,217.06 L369.11,218.35 L370.17,219.66 L371.23,220.97 L372.28,222.29 L373.32,223.61 L374.35,224.94 L375.37,226.28 L376.38,227.62 L377.37,228.97 L378.36,230.33 L379.34,231.69 L380.31,233.06 L381.26,234.44 L382.21,235.82 L383.15,237.20 L384.07,238.60 L384.99,239.99 L385.89,241.40 L386.78,242.81 L387.66,244.22 L388.53,245.64 L389.39,247.06 L390.24,248.49 L391.08,249.93 L391.91,251.37 L392.72,252.81 L393.52,254.26 L394.31,255.71 L395.09,257.17 L395.86,258.63 L396.62,260.09 L397.37,261.56 L398.10,263.03 L398.82,264.51 L399.53,265.99 L400.23,267.47 L400.91,268.96 L401.59,270.45 L402.25,271.94 L402.90,273.44 L403.54,274.94 L404.16,276.44 L404.78,277.94 L405.38,279.45 L405.97,280.96 L406.54,282.47 L407.10,283.99 L407.66,285.50 L408.19,287.02 L408.72,288.54 L409.23,290.06 L409.73,291.59 L410.22,293.11 L410.70,294.64 L411.16,296.17 L411.61,297.70 L412.05,299.23 L412.47,300.76 L412.88,302.29 L413.28,303.82 L413.66,305.36 L414.03,306.89 L414.39,308.42 L414.74,309.96 L415.07,311.49 L415.39,313.03 L415.70,314.56 L415.99,316.10 L416.27,317.63 L416.54,319.16 L416.79,320.70 L417.03,322.23 L417.26,323.76 L417.48,325.29 L417.68,326.82 L417.86,328.35 L418.04,329.88 L418.20,331.40 L418.35,332.93 L418.48,334.45 L418.60,335.97 L418.71,337.49 L418.80,339.01 L418.88,340.52 L418.95,342.04 L419.00,343.55 L419.05,345.06 L419.07,346.56 L419.09,348.07 L419.09,349.57 L419.07,351.06 L419.05,352.56 L419.01,354.05 L418.95,355.54 L418.89,357.02 L418.81,358.51 L418.71,359.98 L418.60,361.46 L418.48,362.93 L418.35,364.40 L418.20,365.86 L418.04,367.32 L417.87,368.77 L417.68,370.22 L417.48,371.67 L417.27,373.11 L417.04,374.54 L416.80,375.98 L416.55,377.40 L416.28,378.82 L416.00,380.24 L415.71,381.65 L415.40,383.06 L415.08,384.46 L414.75,385.85 L414.40,387.24 L414.05,388.63 L413.67,390.00 L413.29,391.38 L412.89,392.74 L412.48,394.10 L412.06,395.46 L411.62,396.80 L411.17,398.14 L410.71,399.48 L410.24,400.81 L409.75,402.13 L409.25,403.44 L408.73,404.75 L408.21,406.05 L407.67,407.34 L407.12,408.62 L406.56,409.90 L405.98,411.17 L405.39,412.44 L404.79,413.69 L404.18,414.94 L403.56,416.18 L402.92,417.41 L402.27,418.63 L401.61,419.85 L400.93,421.06 L400.25,422.26 L399.55,423.45 L398.84,424.63 L398.12,425.80 L397.39,426.97 L396.64,428.12 L395.89,429.27 L395.12,430.41 L394.34,431.54 L393.55,432.66 L392.74,433.77 L391.93,434.87 L391.10,435.96 L390.27,437.04 L389.42,438.12 L388.56,439.18 L387.69,440.24 L386.81,441.28 L385.91,442.31 L385.01,443.34 L384.10,444.35 L383.17,445.36 L382.24,446.35 L381.29,447.34Z" fill="none" stroke="#000000" stroke-width="6" opacity="0.14" filter="url(#b1)"/></g>
<g filter="url(#b0)">
<path d="M150.00,146.50 L141.00,149.60 L135.00,152.10 L127.00,155.30 L121.60,158.00 L116.30,162.30 L111.00,167.00 L105.70,171.80 L100.30,176.60 L96.50,181.00 L93.30,184.30 L100.00,200.00 L140.00,190.00 L160.00,160.00Z" fill="#112560"/>
<path d="M304.93,485.82 L303.24,486.08 L301.55,486.32 L299.84,486.54 L298.13,486.74 L296.42,486.92 L294.70,487.09 L292.97,487.23 L291.24,487.36 L289.50,487.47 L287.76,487.56 L286.01,487.63 L284.26,487.69 L282.51,487.72 L280.75,487.74 L278.98,487.74 L277.22,487.72 L275.45,487.68 L273.67,487.62 L271.89,487.55 L270.11,487.46 L268.33,487.34 L266.54,487.21 L264.76,487.06 L262.97,486.90 L261.17,486.71 L259.38,486.51 L257.58,486.29 L255.78,486.05 L253.98,485.79 L252.18,485.51 L250.38,485.22 L248.58,484.90 L246.78,484.57 L244.97,484.22 L243.17,483.85 L241.37,483.47 L239.56,483.07 L237.76,482.64 L235.96,482.21 L234.16,481.75 L232.36,481.27 L230.56,480.78 L228.76,480.27 L226.96,479.74 L225.17,479.20 L223.37,478.63 L221.58,478.05 L219.79,477.45 L218.01,476.84 L216.22,476.21 L214.44,475.56 L212.67,474.89 L210.89,474.20 L209.12,473.50 L207.35,472.78 L205.59,472.05 L203.83,471.30 L202.07,470.53 L200.32,469.74 L198.57,468.94 L196.83,468.12 L195.09,467.29 L193.36,466.44 L191.63,465.57 L189.91,464.69 L188.19,463.79 L186.48,462.87 L184.77,461.94 L183.07,460.99 L181.38,460.03 L179.70,459.05 L178.02,458.06 L176.34,457.05 L174.68,456.03 L173.02,454.99 L171.37,453.93 L169.72,452.86 L168.09,451.78 L166.46,450.68 L164.84,449.57 L163.23,448.44 L161.62,447.30 L160.03,446.14 L158.44,444.97 L156.86,443.79 L155.29,442.59 L153.74,441.38 L152.18,440.16 L150.64,438.92 L149.11,437.67 L147.59,436.40 L146.08,435.12 L144.58,433.83 L143.09,432.53 L141.61,431.21 L140.14,429.88 L138.68,428.54 L137.23,427.19 L135.80,425.82 L134.37,424.44 L132.96,423.05 L131.56,421.65 L130.16,420.24 L128.79,418.82 L127.42,417.38 L126.06,415.93 L124.72,414.48 L123.39,413.01 L122.07,411.53 L120.77,410.04 L119.48,408.54 L118.20,407.03 L116.93,405.51 L115.68,403.98 L114.44,402.45 L113.21,400.90 L112.00,399.34 L110.80,397.77 L109.61,396.20 L108.44,394.61 L107.29,393.02 L106.14,391.42 L105.02,389.81 L103.90,388.19 L102.80,386.56 L101.72,384.93 L100.65,383.29 L99.59,381.64 L98.55,379.98 L97.53,378.32 L96.52,376.65 L95.53,374.97 L94.55,373.28 L93.58,371.59 L92.64,369.90 L91.70,368.19 L90.79,366.48 L89.89,364.77 L89.01,363.05 L88.14,361.32 L87.29,359.59 L86.45,357.86 L85.63,356.12 L84.83,354.37 L84.04,352.62 L83.28,350.87 L82.52,349.11 L81.79,347.35 L81.07,345.58 L80.37,343.81 L79.68,342.04 L79.02,340.26 L78.37,338.49 L77.73,336.70 L77.12,334.92 L76.52,333.13 L75.94,331.35 L75.38,329.55 L74.83,327.76 L74.30,325.97 L73.79,324.17 L73.30,322.38 L72.82,320.58 L72.37,318.78 L71.93,316.98 L71.51,315.18 L71.10,313.38 L70.72,311.58 L70.35,309.78 L70.00,307.98 L69.67,306.17 L69.36,304.38 L69.07,302.58 L68.79,300.78 L68.53,298.98 L68.29,297.19 L68.07,295.39 L67.87,293.60 L67.68,291.81 L67.52,290.02 L67.37,288.24 L67.24,286.45 L67.13,284.67 L67.03,282.90 L66.96,281.12 L66.91,279.35 L66.87,277.58 L66.85,275.82 L66.85,274.06 L66.87,272.30 L66.90,270.55 L66.96,268.80 L67.03,267.06 L67.12,265.32 L67.23,263.58 L67.36,261.85 L67.51,260.13 L67.68,258.41 L67.86,256.70 L68.06,254.99 L68.28,253.29 L68.52,251.60 L68.78,249.91 L69.06,248.22 L69.35,246.55 L69.66,244.88 L69.99,243.22 L70.34,241.57 L70.71,239.92 L71.09,238.28 L71.49,236.65 L71.91,235.02 L72.35,233.41 L72.81,231.80 L73.28,230.20 L73.77,228.61 L74.28,227.03 L74.81,225.46 L75.36,223.89 L75.92,222.34 L76.50,220.79 L77.10,219.26 L77.71,217.73 L78.34,216.21 L78.99,214.71 L79.66,213.21 L80.34,211.73 L81.04,210.25 L81.76,208.79 L82.50,207.33 L83.25,205.89 L84.02,204.46 L84.80,203.04 L85.60,201.63 L86.42,200.23 L87.26,198.85 L88.11,197.47 L88.97,196.11 L89.86,194.76 L90.76,193.42 L91.67,192.10 L92.60,190.79 L93.55,189.49 L94.51,188.20 L95.49,186.93 L96.48,185.67 L97.49,184.42 L98.52,183.18 L99.56,181.96 L100.61,180.76 L101.68,179.56 L102.76,178.38 L103.86,177.22 L104.98,176.07 L106.10,174.93 L107.25,173.81 L108.40,172.70 L109.57,171.61 L110.76,170.53 L111.96,169.46 L113.17,168.41 L114.39,167.38 L115.63,166.36 L116.89,165.36 L118.15,164.37 L119.43,163.39 L120.72,162.44 L122.03,161.50 L123.34,160.57 L124.67,159.66 L126.02,158.77 L127.37,157.89 L128.74,157.03 L130.12,156.18 L131.51,155.35 L132.91,154.54 L134.32,153.74 L135.75,152.96 L137.18,152.20 L138.63,151.45 L140.09,150.72 L141.56,150.01 L143.04,149.31 L144.53,148.64 L146.03,147.97 L147.54,147.33 L149.06,146.70 L150.59,146.09 L152.13,145.50 L153.68,144.92 L155.24,144.37 L156.81,143.83 L158.39,143.30 L159.97,142.80 L161.57,142.31 L163.17,141.84 L164.78,141.39 L166.40,140.96 L168.03,140.54 L241.00,313.00Z" fill="#112560"/>
<path d="M168.03,140.54 L169.75,140.13 L171.48,139.73 L173.22,139.35 L174.97,138.99 L176.72,138.65 L178.48,138.34 L180.25,138.04 L182.03,137.76 L183.81,137.50 L185.60,137.27 L187.40,137.05 L189.21,136.85 L191.02,136.68 L192.83,136.52 L194.65,136.39 L196.48,136.27 L198.31,136.18 L200.15,136.10 L202.00,136.05 L203.84,136.02 L205.70,136.00 L207.55,136.01 L209.41,136.04 L211.28,136.09 L213.15,136.16 L215.02,136.24 L216.89,136.35 L218.77,136.48 L220.65,136.63 L222.54,136.80 L224.42,137.00 L226.31,137.21 L228.20,137.44 L230.09,137.69 L231.98,137.96 L233.88,138.25 L235.77,138.57 L237.67,138.90 L239.57,139.25 L241.47,139.62 L243.36,140.02 L245.26,140.43 L247.16,140.86 L249.05,141.31 L250.95,141.78 L252.85,142.28 L254.74,142.79 L256.63,143.32 L258.52,143.87 L260.41,144.44 L262.30,145.03 L264.19,145.64 L266.07,146.27 L267.95,146.91 L269.82,147.58 L271.70,148.27 L273.57,148.97 L275.44,149.69 L277.30,150.44 L279.16,151.20 L281.01,151.98 L282.86,152.78 L284.71,153.59 L286.55,154.43 L288.39,155.28 L290.22,156.15 L292.04,157.04 L293.86,157.95 L295.68,158.88 L297.48,159.82 L299.28,160.78 L301.08,161.76 L302.87,162.75 L304.65,163.77 L306.42,164.80 L308.19,165.85 L309.95,166.91 L311.70,167.99 L313.44,169.09 L315.18,170.20 L316.90,171.33 L318.62,172.48 L320.33,173.65 L322.03,174.83 L323.72,176.02 L325.40,177.23 L327.07,178.46 L328.74,179.70 L330.39,180.96 L332.03,182.23 L333.66,183.52 L335.28,184.82 L336.90,186.14 L338.50,187.47 L340.08,188.82 L341.66,190.18 L343.23,191.56 L344.78,192.94 L346.32,194.35 L347.85,195.76 L349.37,197.19 L350.88,198.64 L352.37,200.09 L353.85,201.56 L355.32,203.04 L356.77,204.54 L358.22,206.05 L359.64,207.57 L361.06,209.10 L362.46,210.64 L363.85,212.20 L365.22,213.76 L366.58,215.34 L367.92,216.93 L369.25,218.53 L370.57,220.14 L371.87,221.77 L373.15,223.40 L374.43,225.04 L375.68,226.69 L376.92,228.36 L378.14,230.03 L379.35,231.71 L380.55,233.40 L381.72,235.10 L382.88,236.81 L384.03,238.53 L385.16,240.26 L386.27,241.99 L387.36,243.73 L388.44,245.48 L389.50,247.24 L390.55,249.01 L391.57,250.78 L392.58,252.56 L393.57,254.35 L394.55,256.14 L395.51,257.94 L396.45,259.75 L397.37,261.56 L398.27,263.38 L399.16,265.21 L400.03,267.04 L400.88,268.87 L401.71,270.71 L402.52,272.56 L403.31,274.40 L404.09,276.26 L404.85,278.12 L405.58,279.98 L406.30,281.84 L407.00,283.71 L407.68,285.58 L408.35,287.46 L408.99,289.34 L409.61,291.22 L410.22,293.10 L410.80,294.98 L411.37,296.87 L411.91,298.76 L412.44,300.65 L412.95,302.54 L413.43,304.44 L413.90,306.33 L414.35,308.22 L414.78,310.12 L415.18,312.01 L415.57,313.91 L415.94,315.80 L416.28,317.70 L416.61,319.59 L416.92,321.48 L417.21,323.37 L417.47,325.26 L417.72,327.15 L417.94,329.04 L418.15,330.92 L418.34,332.81 L418.50,334.69 L418.64,336.56 L418.77,338.44 L418.87,340.31 L418.96,342.18 L419.02,344.04 L419.06,345.90 L419.08,347.76 L419.09,349.61 L419.07,351.46 L419.03,353.31 L418.97,355.15 L418.89,356.98 L418.79,358.81 L418.67,360.63 L418.52,362.45 L418.36,364.26 L418.18,366.07 L417.98,367.87 L417.76,369.66 L417.51,371.45 L417.25,373.23 L416.97,375.00 L416.66,376.76 L416.34,378.52 L415.99,380.27 L415.63,382.01 L415.25,383.75 L414.84,385.47 L414.42,387.19 L413.97,388.90 L413.51,390.59 L413.03,392.28 L412.52,393.96 L412.00,395.64 L411.46,397.30 L410.90,398.95 L410.31,400.59 L409.71,402.22 L409.09,403.84 L408.45,405.45 L407.79,407.05 L407.11,408.64 L406.42,410.21 L405.70,411.78 L404.97,413.33 L404.21,414.87 L403.44,416.40 L402.65,417.92 L401.84,419.43 L401.01,420.92 L400.16,422.40 L399.30,423.87 L398.42,425.32 L397.52,426.76 L396.60,428.19 L395.66,429.61 L394.71,431.01 L393.73,432.39 L392.74,433.77 L391.74,435.13 L390.71,436.47 L389.67,437.80 L388.61,439.12 L387.54,440.42 L386.44,441.70 L385.34,442.97 L384.21,444.23 L383.07,445.47 L381.91,446.69 L380.74,447.90 L379.55,449.09 L378.34,450.27 L377.12,451.43 L375.88,452.58 L374.63,453.71 L373.36,454.82 L372.08,455.91 L370.78,456.99 L369.47,458.06 L368.14,459.10 L366.80,460.13 L365.44,461.14 L364.07,462.13 L362.69,463.11 L361.29,464.07 L359.87,465.01 L358.45,465.93 L357.01,466.83 L355.56,467.72 L354.09,468.59 L352.61,469.44 L351.12,470.27 L349.62,471.09 L348.10,471.88 L346.57,472.66 L345.03,473.42 L343.48,474.16 L341.91,474.88 L340.34,475.58 L338.75,476.26 L337.15,476.93 L335.55,477.57 L333.93,478.20 L332.30,478.80 L330.66,479.39 L329.00,479.96 L327.34,480.51 L325.67,481.03 L323.99,481.54 L322.30,482.03 L320.61,482.50 L318.90,482.95 L317.18,483.38 L315.46,483.79 L313.72,484.18 L311.98,484.55 L310.23,484.90 L308.47,485.23 L306.71,485.54 L304.93,485.82 L241.00,313.00Z" fill="#800850"/>
</g>
<g clip-path="url(#mf)">
<path d="M131.55,54.32 L241.00,313.00 L336.90,572.24 L413.15,765.66 L245.09,311.38 L55.18,-137.46Z" fill="#6a0842" clip-path="url(#ie)"/>
<path d="M57.30,-138.35 L247.23,310.53 L415.31,764.86" fill="none" stroke="#b25c96" stroke-width="4.8" clip-path="url(#ie)" filter="url(#b07)"/>
<path d="M375.74,446.57 L374.98,447.31 L374.21,448.05 L373.43,448.78 L372.65,449.51 L371.86,450.22 L371.06,450.94 L370.26,451.64 L369.45,452.34 L368.64,453.03 L367.82,453.71 L366.99,454.39 L366.16,455.06 L365.32,455.72 L364.48,456.38 L363.63,457.03 L362.77,457.67 L361.91,458.30 L361.04,458.93 L360.16,459.55 L359.29,460.16 L358.40,460.77 L357.51,461.37 L356.61,461.96 L355.71,462.54 L354.80,463.12 L353.89,463.69 L352.97,464.25 L352.05,464.80 L351.12,465.35 L350.18,465.89 L349.25,466.42 L348.30,466.94 L347.35,467.46 L346.40,467.97 L345.44,468.47 L344.47,468.96 L343.50,469.45 L342.53,469.93 L341.55,470.40 L340.56,470.86 L339.57,471.32 L338.58,471.76 L337.58,472.20 L336.58,472.64 L335.57,473.06 L334.56,473.48 L333.54,473.88 L332.52,474.28 L331.49,474.68 L330.46,475.06 L329.43,475.44 L328.39,475.80 L327.35,476.16 L326.30,476.52 L325.25,476.86 L324.20,477.20 L323.14,477.52 L322.08,477.84 L321.01,478.16 L319.94,478.46 L318.86,478.76 L317.79,479.04 L316.71,479.32 L315.62,479.59 L314.53,479.86 L313.44,480.11 L312.34,480.36 L311.25,480.59 L310.14,480.82 L309.04,481.05 L307.93,481.26 L306.82,481.47 L305.70,481.66 L304.59,481.85 L303.46,482.03 L302.34,482.20 L301.21,482.37 L300.08,482.52 L298.95,482.67 L297.82,482.81 L296.68,482.94 L295.54,483.06 L294.40,483.17 L293.25,483.28 L292.10,483.37 L290.95,483.46 L289.80,483.54 L288.64,483.62 L287.49,483.68 L286.33,483.73 L285.17,483.78 L284.00,483.82 L282.84,483.85 L281.67,483.87 L280.50,483.88 L279.33,483.89 L278.16,483.88 L276.98,483.87 L275.81,483.85 L274.63,483.82 L273.45,483.78 L272.27,483.74 L271.09,483.68 L269.90,483.62 L268.72,483.55 L267.53,483.47 L266.34,483.38 L265.15,483.28 L263.96,483.18 L262.77,483.07 L261.58,482.95 L260.39,482.82 L259.20,482.68 L258.00,482.53 L256.81,482.38 L255.61,482.21 L254.41,482.04 L253.22,481.86 L252.02,481.67 L250.82,481.48 L249.62,481.27 L248.43,481.06 L247.23,480.84 L246.03,480.61 L244.83,480.37 L243.63,480.13 L242.43,479.87 L241.23,479.61 L240.03,479.34 L238.83,479.06 L237.63,478.77 L236.44,478.48 L235.24,478.18 L234.04,477.87 L232.84,477.55 L231.65,477.22 L230.45,476.88 L229.25,476.54 L228.06,476.19 L226.86,475.83 L225.67,475.46 L224.48,475.08 L223.29,474.70 L222.09,474.31 L220.90,473.91 L219.72,473.50 L218.53,473.09 L217.34,472.66 L216.16,472.23 L214.97,471.79 L213.79,471.35 L212.61,470.89 L211.43,470.43 L210.25,469.96 L209.08,469.48 L207.90,469.00 L206.73,468.50 L205.56,468.00 L204.39,467.49 L203.22,466.98 L202.05,466.46 L200.89,465.92 L199.73,465.39 L198.57,464.84 L197.41,464.29 L196.26,463.72 L195.10,463.16 L193.95,462.58 L192.80,462.00 L191.66,461.41 L190.51,460.81 L189.37,460.20 L188.24,459.59 L187.10,458.97 L185.97,458.34 L184.84,457.71 L183.71,457.07 L182.59,456.42 L181.46,455.77 L180.35,455.10 L179.23,454.43 L178.12,453.76 L177.01,453.07 L175.90,452.38 L174.80,451.69 L173.70,450.98 L172.61,450.27 L171.51,449.55 L170.43,448.83 L169.34,448.10 L168.26,447.36 L167.18,446.62 L166.11,445.87 L165.04,445.11 L163.97,444.35 L162.91,443.58 L161.85,442.80 L160.79,442.02 L159.74,441.23 L158.69,440.43 L157.65,439.63 L156.61,438.82 L155.58,438.01 L154.55,437.19 L153.52,436.36 L152.50,435.53 L151.48,434.69 L150.47,433.84 L149.46,432.99 L148.46,432.13 L147.46,431.27 L146.46,430.40 L145.47,429.53 L144.49,428.65 L143.51,427.76 L142.53,426.87 L141.56,425.97 L140.60,425.07 L139.64,424.16 L138.68,423.25 L137.73,422.33 L136.78,421.41 L135.84,420.48 L134.91,419.54 L133.98,418.60 L133.06,417.66 L132.14,416.70 L131.22,415.75 L130.32,414.79 L129.41,413.82 L128.52,412.85 L127.62,411.87 L126.74,410.89 L125.86,409.91 L124.98,408.92 L124.11,407.92 L123.25,406.92 L122.39,405.92 L121.54,404.91 L120.70,403.89 L119.86,402.88 L119.02,401.85 L118.20,400.83 L117.38,399.79 L116.56,398.76 L115.75,397.72 L114.95,396.67 L114.15,395.62 L113.36,394.57 L112.58,393.52 L111.80,392.46 L111.03,391.39 L110.26,390.32 L109.51,389.25 L108.75,388.17 L108.01,387.09 L107.27,386.01 L106.54,384.92 L105.81,383.83 L105.09,382.74 L104.38,381.64 L103.68,380.54 L102.98,379.43 L102.29,378.33 L101.60,377.22 L100.92,376.10 L100.25,374.98 L99.59,373.86 L98.93,372.74 L98.28,371.61 L97.64,370.48 L97.00,369.35 L96.37,368.22 L95.75,367.08 L95.14,365.94 L94.53,364.79 L93.93,363.65 L93.34,362.50 L92.75,361.35 L92.17,360.20 L91.60,359.04 L91.04,357.88 L90.48,356.72 L89.93,355.56 L89.39,354.39 L88.86,353.23 L88.33,352.06 L87.82,350.89 L87.30,349.72 L86.80,348.54 L86.30,347.36 L85.82,346.19 L85.34,345.01 L84.86,343.82 L84.40,342.64 L83.94,341.46 L83.49,340.27 L83.05,339.08 L82.61,337.90 L82.19,336.71 L81.77,335.51 L81.36,334.32 L80.96,333.13 L80.56,331.93 L80.17,330.74 L79.80,329.54 L79.42,328.34 L79.06,327.15 L78.71,325.95 L78.36,324.75 L78.02,323.55 L77.69,322.35 L77.37,321.14 L77.05,319.94 L76.74,318.74 L76.45,317.54 L76.16,316.33 L75.87,315.13 L75.60,313.93 L75.33,312.72 L75.07,311.52 L74.82,310.32 L74.58,309.11 L74.35,307.91 L74.12,306.71 L73.91,305.50 L73.70,304.30 L73.50,303.10 L73.31,301.90 L73.12,300.69 L72.95,299.49 L72.78,298.29 L72.62,297.09 L72.47,295.89 L72.33,294.70 L72.19,293.50 L72.07,292.30 L71.95,291.11 L71.84,289.91 L71.74,288.72 L71.65,287.53 L71.56,286.33 L71.49,285.14 L71.42,283.95 L71.36,282.77 L71.31,281.58 L71.27,280.40 L71.23,279.21 L71.21,278.03 L71.19,276.85 L71.18,275.67 L71.18,274.50 L71.19,273.32 L71.21,272.15 L71.23,270.98 L71.26,269.81 L71.30,268.64 L71.35,267.48 L71.41,266.32 L71.48,265.16 L71.55,264.00 L71.64,262.84 L71.73,261.69 L71.83,260.54 L71.94,259.39 L72.05,258.24 L72.18,257.10 L72.31,255.96 L72.45,254.82 L72.60,253.68 L72.76,252.55 L72.93,251.42 L73.10,250.29 L73.28,249.17 L73.48,248.05 L73.67,246.93 L73.88,245.82 L74.10,244.71 L74.32,243.60 L74.56,242.49 L74.80,241.39 L75.04,240.29 L75.30,239.20 L75.57,238.11 L75.84,237.02 L76.12,235.94 L76.41,234.86 L76.71,233.78 L77.02,232.71 L77.33,231.64 L77.65,230.58 L77.98,229.51 L78.32,228.46 L78.67,227.40 L79.02,226.36 L79.38,225.31 L79.75,224.27 L80.13,223.23 L80.52,222.20 L80.91,221.18 L81.31,220.15 L81.72,219.13 L82.14,218.12 L82.56,217.11 L83.00,216.11 L83.44,215.10 L83.89,214.11 L84.34,213.12 L84.81,212.13 L85.28,211.15 L85.76,210.17 L86.25,209.20 L86.74,208.24 L87.24,207.28 L87.76,206.32 L88.27,205.37 L88.80,204.42 L89.33,203.48 L89.87,202.55 L90.42,201.61 L90.97,200.69 L91.54,199.77 L92.11,198.86 L92.68,197.95 L93.27,197.04 L93.86,196.15 L94.46,195.26 L95.07,194.37 L95.68,193.49 L96.30,192.61 L96.93,191.75 L97.56,190.88 L98.21,190.03 L98.86,189.17 L99.51,188.33 L100.17,187.49 L100.84,186.66 L101.52,185.83 L102.21,185.01 L102.90,184.19 L103.59,183.38 L104.30,182.58 L105.01,181.79 L105.73,181.00 L106.45,180.21 L107.18,179.43 L107.92,178.66 L108.67,177.90 L109.42,177.14 L110.18,176.39 L110.94,175.65 L111.71,174.91 L112.49,174.18 L113.27,173.45 L114.06,172.74 L114.86,172.02 L115.66,171.32 L116.47,170.62 L117.28,169.93 L118.10,169.25 L118.93,168.57 L119.76,167.90 L120.60,167.24 L121.44,166.58 L122.29,165.93 L123.15,165.29 L124.01,164.66 L124.88,164.03 L125.76,163.41 L126.63,162.80 L127.52,162.19 L128.41,161.59 L129.31,161.00 L130.21,160.42 L131.12,159.84 L132.03,159.27 L132.95,158.71 L133.87,158.16 L134.80,157.61 L135.74,157.07 L136.67,156.54 L137.62,156.02 L138.57,155.50 L139.52,154.99 L140.48,154.49 L141.45,154.00 L142.42,153.51 L143.39,153.03 L144.37,152.56 L145.36,152.10 L146.35,151.64 L147.34,151.20 L148.34,150.76 L149.34,150.32 L150.35,149.90 L151.36,149.48 L152.38,149.08 L153.40,148.68 L154.43,148.28 L155.46,147.90 L156.49,147.52 L157.53,147.16 L158.57,146.80 L159.62,146.44 L160.67,146.10 L161.72,145.76 L162.78,145.44 L163.84,145.12 L164.91,144.80 L165.98,144.50 L167.06,144.20 L168.13,143.92 L169.21,143.64 L170.30,143.37 L171.39,143.10 L172.48,142.85 L173.58,142.60 L174.67,142.37 L175.78,142.14 L176.88,141.91 L177.99,141.70 L179.10,141.49 L180.22,141.30 L181.33,141.11 L182.46,140.93 L183.58,140.76 L184.71,140.59 L185.84,140.44 L186.97,140.29 L188.10,140.15 L189.24,140.02 L190.38,139.90 L191.52,139.79 L192.67,139.68 L193.82,139.59 L194.97,139.50 L196.12,139.42 L197.28,139.34 L198.43,139.28 L199.59,139.23 L200.75,139.18 L201.92,139.14 L203.08,139.11 L204.25,139.09 L205.42,139.08 L206.59,139.07 L207.76,139.08 L208.94,139.09 L210.11,139.11 L211.29,139.14 L212.47,139.18 L213.65,139.22 L214.83,139.28 L216.02,139.34 L217.20,139.41 L218.39,139.49 L219.58,139.58 L220.77,139.68 L221.96,139.78 L223.15,139.89 L224.34,140.01 L225.53,140.14 L226.72,140.28 L227.92,140.43 L229.11,140.58 L230.31,140.75 L231.51,140.92 L232.70,141.10 L233.90,141.29 L235.10,141.48 L236.30,141.69 L237.49,141.90 L238.69,142.12 L239.89,142.35 L241.09,142.59 L242.29,142.83 L243.49,143.09 L244.69,143.35 L245.89,143.62 L247.09,143.90 L248.29,144.19 L249.48,144.48 L250.68,144.78 L251.88,145.09 L253.08,145.41 L254.27,145.74 L255.47,146.08 L256.67,146.42 L257.86,146.77 L259.06,147.13 L260.25,147.50 L261.44,147.88 L262.63,148.26 L263.83,148.65 L265.02,149.05 L266.20,149.46 L267.39,149.87 L268.58,150.30 L269.76,150.73 L270.95,151.17 L272.13,151.61 L273.31,152.07 L274.49,152.53 L275.67,153.00 L276.84,153.48 L278.02,153.96 L279.19,154.46 L280.36,154.96 L281.53,155.47 L282.70,155.98 L283.87,156.50 L285.03,157.04 L286.19,157.57 L287.35,158.12 L288.51,158.67 L289.66,159.24 L290.82,159.80 L291.97,160.38 L293.12,160.96 L294.26,161.55 L295.41,162.15 L296.55,162.76 L297.68,163.37 L298.82,163.99 L299.95,164.62 L301.08,165.25 L302.21,165.89 L303.33,166.54 L304.46,167.19 L305.57,167.86 L306.69,168.53 L307.80,169.20 L308.91,169.89 L310.02,170.58 L311.12,171.27 L312.22,171.98 L313.31,172.69 L314.41,173.41 L315.49,174.13 L316.58,174.86 L317.66,175.60 L318.74,176.34 L319.81,177.09 L320.88,177.85 L321.95,178.61 L323.01,179.38 L324.07,180.16 L325.13,180.94 L326.18,181.73 L327.23,182.53 L328.27,183.33 L329.31,184.14 L330.34,184.95 L331.37,185.77 L332.40,186.60 L333.42,187.43 L334.44,188.27 L335.45,189.12 L336.46,189.97 L337.46,190.83 L338.46,191.69 L339.46,192.56 L340.45,193.43 L341.43,194.31 L342.41,195.20 L343.39,196.09 L344.36,196.99 L345.32,197.89 L346.28,198.80 L347.24,199.71 L348.19,200.63 L349.14,201.55 L350.08,202.48 L351.01,203.42 L351.94,204.36 L352.86,205.30 L353.78,206.26 L354.70,207.21 L355.60,208.17 L356.51,209.14 L357.40,210.11 L358.30,211.09 L359.18,212.07 L360.06,213.05 L360.94,214.04 L361.81,215.04 L362.67,216.04 L363.53,217.04 L364.38,218.05 L365.22,219.07 L366.06,220.08 L366.90,221.11 L367.72,222.13 L368.54,223.17 L369.36,224.20 L370.17,225.24 L370.97,226.29 L371.77,227.34 L372.56,228.39 L373.34,229.44 L374.12,230.50 L374.89,231.57 L375.66,232.64 L376.41,233.71 L377.17,234.79 L377.91,235.87 L378.65,236.95 L379.38,238.04 L380.11,239.13 L380.83,240.22 L381.54,241.32 L382.24,242.42 L382.94,243.53 L383.63,244.63 L384.32,245.74 L385.00,246.86 L385.67,247.98 L386.33,249.10 L386.99,250.22 L387.64,251.35 L388.28,252.48 L388.92,253.61 L389.55,254.74 L390.17,255.88 L390.78,257.02 L391.39,258.17 L391.99,259.31 L392.58,260.46 L393.17,261.61 L393.75,262.76 L394.32,263.92 L394.88,265.08 L395.44,266.24 L395.99,267.40 L396.53,268.57 L397.06,269.73 L397.59,270.90 L398.10,272.07 L398.62,273.24 L399.12,274.42 L399.62,275.60 L400.10,276.77 L400.58,277.95 L401.06,279.14 L401.52,280.32 L401.98,281.50 L402.43,282.69 L402.87,283.88 L403.31,285.06 L403.73,286.25 L404.15,287.45 L404.56,288.64 L404.96,289.83 L405.36,291.03 L405.75,292.22 L406.12,293.42 L406.50,294.62 L406.86,295.81 L407.21,297.01 L407.56,298.21 L407.90,299.41 L408.23,300.61 L408.55,301.82 L408.87,303.02 L409.18,304.22 L409.47,305.42 L409.76,306.63 L410.05,307.83 L410.32,309.03 L410.59,310.24 L410.85,311.44 L411.10,312.64 L411.34,313.85 L411.57,315.05 L411.80,316.25 L412.01,317.46 L412.22,318.66 L412.42,319.86 L412.61,321.06 L412.80,322.27 L412.97,323.47 L413.14,324.67 L413.30,325.87 L413.45,327.07 L413.59,328.26 L413.73,329.46 L413.85,330.66 L413.97,331.85 L414.08,333.05 L414.18,334.24 L414.27,335.43 L414.36,336.63 L414.43,337.82 L414.50,339.01 L414.56,340.19 L414.61,341.38 L414.65,342.56 L414.69,343.75 L414.71,344.93 L414.73,346.11 L414.74,347.29 L414.74,348.46 L414.73,349.64 L414.71,350.81 L414.69,351.98 L414.66,353.15 L414.62,354.32 L414.57,355.48 L414.51,356.64 L414.44,357.80 L414.37,358.96 L414.28,360.12 L414.19,361.27 L414.09,362.42 L413.98,363.57 L413.87,364.72 L413.74,365.86 L413.61,367.00 L413.47,368.14 L413.32,369.28 L413.16,370.41 L412.99,371.54 L412.82,372.67 L412.64,373.79 L412.44,374.91 L412.25,376.03 L412.04,377.14 L411.82,378.25 L411.60,379.36 L411.36,380.47 L411.12,381.57 L410.88,382.67 L410.62,383.76 L410.35,384.85 L410.08,385.94 L409.80,387.02 L409.51,388.10 L409.21,389.18 L408.90,390.25 L408.59,391.32 L408.27,392.38 L407.94,393.45 L407.60,394.50 L407.25,395.56 L406.90,396.60 L406.54,397.65 L406.17,398.69 L405.79,399.73 L405.40,400.76 L405.01,401.78 L404.61,402.81 L404.20,403.83 L403.78,404.84 L403.36,405.85 L402.92,406.85 L402.48,407.86 L402.03,408.85 L401.58,409.84 L401.11,410.83 L400.64,411.81 L400.16,412.79 L399.67,413.76 L399.18,414.72 L398.68,415.68 L398.16,416.64 L397.65,417.59 L397.12,418.54 L396.59,419.48 L396.05,420.41 L395.50,421.35 L394.95,422.27 L394.38,423.19 L393.81,424.10 L393.24,425.01 L392.65,425.92 L392.06,426.81 L391.46,427.70 L390.85,428.59 L390.24,429.47 L389.62,430.35 L388.99,431.21 L388.36,432.08 L387.71,432.93 L387.06,433.79 L386.41,434.63 L385.75,435.47 L385.08,436.30 L384.40,437.13 L383.71,437.95 L383.02,438.77 L382.33,439.58 L381.62,440.38 L380.91,441.17 L380.19,441.96 L379.47,442.75 L378.74,443.53 L378.00,444.30 L377.25,445.06 L376.50,445.82Z" fill="none" stroke="url(#gm)" stroke-width="1.8" filter="url(#b0)"/>
</g>
<g clip-path="url(#nf)">
<path d="M47.90,-134.38 L237.75,314.29 L405.74,768.40" fill="none" stroke="#2a3c80" stroke-width="1.4" clip-path="url(#ie)"/>
<path d="M375.74,446.57 L374.98,447.31 L374.21,448.05 L373.43,448.78 L372.65,449.51 L371.86,450.22 L371.06,450.94 L370.26,451.64 L369.45,452.34 L368.64,453.03 L367.82,453.71 L366.99,454.39 L366.16,455.06 L365.32,455.72 L364.48,456.38 L363.63,457.03 L362.77,457.67 L361.91,458.30 L361.04,458.93 L360.16,459.55 L359.29,460.16 L358.40,460.77 L357.51,461.37 L356.61,461.96 L355.71,462.54 L354.80,463.12 L353.89,463.69 L352.97,464.25 L352.05,464.80 L351.12,465.35 L350.18,465.89 L349.25,466.42 L348.30,466.94 L347.35,467.46 L346.40,467.97 L345.44,468.47 L344.47,468.96 L343.50,469.45 L342.53,469.93 L341.55,470.40 L340.56,470.86 L339.57,471.32 L338.58,471.76 L337.58,472.20 L336.58,472.64 L335.57,473.06 L334.56,473.48 L333.54,473.88 L332.52,474.28 L331.49,474.68 L330.46,475.06 L329.43,475.44 L328.39,475.80 L327.35,476.16 L326.30,476.52 L325.25,476.86 L324.20,477.20 L323.14,477.52 L322.08,477.84 L321.01,478.16 L319.94,478.46 L318.86,478.76 L317.79,479.04 L316.71,479.32 L315.62,479.59 L314.53,479.86 L313.44,480.11 L312.34,480.36 L311.25,480.59 L310.14,480.82 L309.04,481.05 L307.93,481.26 L306.82,481.47 L305.70,481.66 L304.59,481.85 L303.46,482.03 L302.34,482.20 L301.21,482.37 L300.08,482.52 L298.95,482.67 L297.82,482.81 L296.68,482.94 L295.54,483.06 L294.40,483.17 L293.25,483.28 L292.10,483.37 L290.95,483.46 L289.80,483.54 L288.64,483.62 L287.49,483.68 L286.33,483.73 L285.17,483.78 L284.00,483.82 L282.84,483.85 L281.67,483.87 L280.50,483.88 L279.33,483.89 L278.16,483.88 L276.98,483.87 L275.81,483.85 L274.63,483.82 L273.45,483.78 L272.27,483.74 L271.09,483.68 L269.90,483.62 L268.72,483.55 L267.53,483.47 L266.34,483.38 L265.15,483.28 L263.96,483.18 L262.77,483.07 L261.58,482.95 L260.39,482.82 L259.20,482.68 L258.00,482.53 L256.81,482.38 L255.61,482.21 L254.41,482.04 L253.22,481.86 L252.02,481.67 L250.82,481.48 L249.62,481.27 L248.43,481.06 L247.23,480.84 L246.03,480.61 L244.83,480.37 L243.63,480.13 L242.43,479.87 L241.23,479.61 L240.03,479.34 L238.83,479.06 L237.63,478.77 L236.44,478.48 L235.24,478.18 L234.04,477.87 L232.84,477.55 L231.65,477.22 L230.45,476.88 L229.25,476.54 L228.06,476.19 L226.86,475.83 L225.67,475.46 L224.48,475.08 L223.29,474.70 L222.09,474.31 L220.90,473.91 L219.72,473.50 L218.53,473.09 L217.34,472.66 L216.16,472.23 L214.97,471.79 L213.79,471.35 L212.61,470.89 L211.43,470.43 L210.25,469.96 L209.08,469.48 L207.90,469.00 L206.73,468.50 L205.56,468.00 L204.39,467.49 L203.22,466.98 L202.05,466.46 L200.89,465.92 L199.73,465.39 L198.57,464.84 L197.41,464.29 L196.26,463.72 L195.10,463.16 L193.95,462.58 L192.80,462.00 L191.66,461.41 L190.51,460.81 L189.37,460.20 L188.24,459.59 L187.10,458.97 L185.97,458.34 L184.84,457.71 L183.71,457.07 L182.59,456.42 L181.46,455.77 L180.35,455.10 L179.23,454.43 L178.12,453.76 L177.01,453.07 L175.90,452.38 L174.80,451.69 L173.70,450.98 L172.61,450.27 L171.51,449.55 L170.43,448.83 L169.34,448.10 L168.26,447.36 L167.18,446.62 L166.11,445.87 L165.04,445.11 L163.97,444.35 L162.91,443.58 L161.85,442.80 L160.79,442.02 L159.74,441.23 L158.69,440.43 L157.65,439.63 L156.61,438.82 L155.58,438.01 L154.55,437.19 L153.52,436.36 L152.50,435.53 L151.48,434.69 L150.47,433.84 L149.46,432.99 L148.46,432.13 L147.46,431.27 L146.46,430.40 L145.47,429.53 L144.49,428.65 L143.51,427.76 L142.53,426.87 L141.56,425.97 L140.60,425.07 L139.64,424.16 L138.68,423.25 L137.73,422.33 L136.78,421.41 L135.84,420.48 L134.91,419.54 L133.98,418.60 L133.06,417.66 L132.14,416.70 L131.22,415.75 L130.32,414.79 L129.41,413.82 L128.52,412.85 L127.62,411.87 L126.74,410.89 L125.86,409.91 L124.98,408.92 L124.11,407.92 L123.25,406.92 L122.39,405.92 L121.54,404.91 L120.70,403.89 L119.86,402.88 L119.02,401.85 L118.20,400.83 L117.38,399.79 L116.56,398.76 L115.75,397.72 L114.95,396.67 L114.15,395.62 L113.36,394.57 L112.58,393.52 L111.80,392.46 L111.03,391.39 L110.26,390.32 L109.51,389.25 L108.75,388.17 L108.01,387.09 L107.27,386.01 L106.54,384.92 L105.81,383.83 L105.09,382.74 L104.38,381.64 L103.68,380.54 L102.98,379.43 L102.29,378.33 L101.60,377.22 L100.92,376.10 L100.25,374.98 L99.59,373.86 L98.93,372.74 L98.28,371.61 L97.64,370.48 L97.00,369.35 L96.37,368.22 L95.75,367.08 L95.14,365.94 L94.53,364.79 L93.93,363.65 L93.34,362.50 L92.75,361.35 L92.17,360.20 L91.60,359.04 L91.04,357.88 L90.48,356.72 L89.93,355.56 L89.39,354.39 L88.86,353.23 L88.33,352.06 L87.82,350.89 L87.30,349.72 L86.80,348.54 L86.30,347.36 L85.82,346.19 L85.34,345.01 L84.86,343.82 L84.40,342.64 L83.94,341.46 L83.49,340.27 L83.05,339.08 L82.61,337.90 L82.19,336.71 L81.77,335.51 L81.36,334.32 L80.96,333.13 L80.56,331.93 L80.17,330.74 L79.80,329.54 L79.42,328.34 L79.06,327.15 L78.71,325.95 L78.36,324.75 L78.02,323.55 L77.69,322.35 L77.37,321.14 L77.05,319.94 L76.74,318.74 L76.45,317.54 L76.16,316.33 L75.87,315.13 L75.60,313.93 L75.33,312.72 L75.07,311.52 L74.82,310.32 L74.58,309.11 L74.35,307.91 L74.12,306.71 L73.91,305.50 L73.70,304.30 L73.50,303.10 L73.31,301.90 L73.12,300.69 L72.95,299.49 L72.78,298.29 L72.62,297.09 L72.47,295.89 L72.33,294.70 L72.19,293.50 L72.07,292.30 L71.95,291.11 L71.84,289.91 L71.74,288.72 L71.65,287.53 L71.56,286.33 L71.49,285.14 L71.42,283.95 L71.36,282.77 L71.31,281.58 L71.27,280.40 L71.23,279.21 L71.21,278.03 L71.19,276.85 L71.18,275.67 L71.18,274.50 L71.19,273.32 L71.21,272.15 L71.23,270.98 L71.26,269.81 L71.30,268.64 L71.35,267.48 L71.41,266.32 L71.48,265.16 L71.55,264.00 L71.64,262.84 L71.73,261.69 L71.83,260.54 L71.94,259.39 L72.05,258.24 L72.18,257.10 L72.31,255.96 L72.45,254.82 L72.60,253.68 L72.76,252.55 L72.93,251.42 L73.10,250.29 L73.28,249.17 L73.48,248.05 L73.67,246.93 L73.88,245.82 L74.10,244.71 L74.32,243.60 L74.56,242.49 L74.80,241.39 L75.04,240.29 L75.30,239.20 L75.57,238.11 L75.84,237.02 L76.12,235.94 L76.41,234.86 L76.71,233.78 L77.02,232.71 L77.33,231.64 L77.65,230.58 L77.98,229.51 L78.32,228.46 L78.67,227.40 L79.02,226.36 L79.38,225.31 L79.75,224.27 L80.13,223.23 L80.52,222.20 L80.91,221.18 L81.31,220.15 L81.72,219.13 L82.14,218.12 L82.56,217.11 L83.00,216.11 L83.44,215.10 L83.89,214.11 L84.34,213.12 L84.81,212.13 L85.28,211.15 L85.76,210.17 L86.25,209.20 L86.74,208.24 L87.24,207.28 L87.76,206.32 L88.27,205.37 L88.80,204.42 L89.33,203.48 L89.87,202.55 L90.42,201.61 L90.97,200.69 L91.54,199.77 L92.11,198.86 L92.68,197.95 L93.27,197.04 L93.86,196.15 L94.46,195.26 L95.07,194.37 L95.68,193.49 L96.30,192.61 L96.93,191.75 L97.56,190.88 L98.21,190.03 L98.86,189.17 L99.51,188.33 L100.17,187.49 L100.84,186.66 L101.52,185.83 L102.21,185.01 L102.90,184.19 L103.59,183.38 L104.30,182.58 L105.01,181.79 L105.73,181.00 L106.45,180.21 L107.18,179.43 L107.92,178.66 L108.67,177.90 L109.42,177.14 L110.18,176.39 L110.94,175.65 L111.71,174.91 L112.49,174.18 L113.27,173.45 L114.06,172.74 L114.86,172.02 L115.66,171.32 L116.47,170.62 L117.28,169.93 L118.10,169.25 L118.93,168.57 L119.76,167.90 L120.60,167.24 L121.44,166.58 L122.29,165.93 L123.15,165.29 L124.01,164.66 L124.88,164.03 L125.76,163.41 L126.63,162.80 L127.52,162.19 L128.41,161.59 L129.31,161.00 L130.21,160.42 L131.12,159.84 L132.03,159.27 L132.95,158.71 L133.87,158.16 L134.80,157.61 L135.74,157.07 L136.67,156.54 L137.62,156.02 L138.57,155.50 L139.52,154.99 L140.48,154.49 L141.45,154.00 L142.42,153.51 L143.39,153.03 L144.37,152.56 L145.36,152.10 L146.35,151.64 L147.34,151.20 L148.34,150.76 L149.34,150.32 L150.35,149.90 L151.36,149.48 L152.38,149.08 L153.40,148.68 L154.43,148.28 L155.46,147.90 L156.49,147.52 L157.53,147.16 L158.57,146.80 L159.62,146.44 L160.67,146.10 L161.72,145.76 L162.78,145.44 L163.84,145.12 L164.91,144.80 L165.98,144.50 L167.06,144.20 L168.13,143.92 L169.21,143.64 L170.30,143.37 L171.39,143.10 L172.48,142.85 L173.58,142.60 L174.67,142.37 L175.78,142.14 L176.88,141.91 L177.99,141.70 L179.10,141.49 L180.22,141.30 L181.33,141.11 L182.46,140.93 L183.58,140.76 L184.71,140.59 L185.84,140.44 L186.97,140.29 L188.10,140.15 L189.24,140.02 L190.38,139.90 L191.52,139.79 L192.67,139.68 L193.82,139.59 L194.97,139.50 L196.12,139.42 L197.28,139.34 L198.43,139.28 L199.59,139.23 L200.75,139.18 L201.92,139.14 L203.08,139.11 L204.25,139.09 L205.42,139.08 L206.59,139.07 L207.76,139.08 L208.94,139.09 L210.11,139.11 L211.29,139.14 L212.47,139.18 L213.65,139.22 L214.83,139.28 L216.02,139.34 L217.20,139.41 L218.39,139.49 L219.58,139.58 L220.77,139.68 L221.96,139.78 L223.15,139.89 L224.34,140.01 L225.53,140.14 L226.72,140.28 L227.92,140.43 L229.11,140.58 L230.31,140.75 L231.51,140.92 L232.70,141.10 L233.90,141.29 L235.10,141.48 L236.30,141.69 L237.49,141.90 L238.69,142.12 L239.89,142.35 L241.09,142.59 L242.29,142.83 L243.49,143.09 L244.69,143.35 L245.89,143.62 L247.09,143.90 L248.29,144.19 L249.48,144.48 L250.68,144.78 L251.88,145.09 L253.08,145.41 L254.27,145.74 L255.47,146.08 L256.67,146.42 L257.86,146.77 L259.06,147.13 L260.25,147.50 L261.44,147.88 L262.63,148.26 L263.83,148.65 L265.02,149.05 L266.20,149.46 L267.39,149.87 L268.58,150.30 L269.76,150.73 L270.95,151.17 L272.13,151.61 L273.31,152.07 L274.49,152.53 L275.67,153.00 L276.84,153.48 L278.02,153.96 L279.19,154.46 L280.36,154.96 L281.53,155.47 L282.70,155.98 L283.87,156.50 L285.03,157.04 L286.19,157.57 L287.35,158.12 L288.51,158.67 L289.66,159.24 L290.82,159.80 L291.97,160.38 L293.12,160.96 L294.26,161.55 L295.41,162.15 L296.55,162.76 L297.68,163.37 L298.82,163.99 L299.95,164.62 L301.08,165.25 L302.21,165.89 L303.33,166.54 L304.46,167.19 L305.57,167.86 L306.69,168.53 L307.80,169.20 L308.91,169.89 L310.02,170.58 L311.12,171.27 L312.22,171.98 L313.31,172.69 L314.41,173.41 L315.49,174.13 L316.58,174.86 L317.66,175.60 L318.74,176.34 L319.81,177.09 L320.88,177.85 L321.95,178.61 L323.01,179.38 L324.07,180.16 L325.13,180.94 L326.18,181.73 L327.23,182.53 L328.27,183.33 L329.31,184.14 L330.34,184.95 L331.37,185.77 L332.40,186.60 L333.42,187.43 L334.44,188.27 L335.45,189.12 L336.46,189.97 L337.46,190.83 L338.46,191.69 L339.46,192.56 L340.45,193.43 L341.43,194.31 L342.41,195.20 L343.39,196.09 L344.36,196.99 L345.32,197.89 L346.28,198.80 L347.24,199.71 L348.19,200.63 L349.14,201.55 L350.08,202.48 L351.01,203.42 L351.94,204.36 L352.86,205.30 L353.78,206.26 L354.70,207.21 L355.60,208.17 L356.51,209.14 L357.40,210.11 L358.30,211.09 L359.18,212.07 L360.06,213.05 L360.94,214.04 L361.81,215.04 L362.67,216.04 L363.53,217.04 L364.38,218.05 L365.22,219.07 L366.06,220.08 L366.90,221.11 L367.72,222.13 L368.54,223.17 L369.36,224.20 L370.17,225.24 L370.97,226.29 L371.77,227.34 L372.56,228.39 L373.34,229.44 L374.12,230.50 L374.89,231.57 L375.66,232.64 L376.41,233.71 L377.17,234.79 L377.91,235.87 L378.65,236.95 L379.38,238.04 L380.11,239.13 L380.83,240.22 L381.54,241.32 L382.24,242.42 L382.94,243.53 L383.63,244.63 L384.32,245.74 L385.00,246.86 L385.67,247.98 L386.33,249.10 L386.99,250.22 L387.64,251.35 L388.28,252.48 L388.92,253.61 L389.55,254.74 L390.17,255.88 L390.78,257.02 L391.39,258.17 L391.99,259.31 L392.58,260.46 L393.17,261.61 L393.75,262.76 L394.32,263.92 L394.88,265.08 L395.44,266.24 L395.99,267.40 L396.53,268.57 L397.06,269.73 L397.59,270.90 L398.10,272.07 L398.62,273.24 L399.12,274.42 L399.62,275.60 L400.10,276.77 L400.58,277.95 L401.06,279.14 L401.52,280.32 L401.98,281.50 L402.43,282.69 L402.87,283.88 L403.31,285.06 L403.73,286.25 L404.15,287.45 L404.56,288.64 L404.96,289.83 L405.36,291.03 L405.75,292.22 L406.12,293.42 L406.50,294.62 L406.86,295.81 L407.21,297.01 L407.56,298.21 L407.90,299.41 L408.23,300.61 L408.55,301.82 L408.87,303.02 L409.18,304.22 L409.47,305.42 L409.76,306.63 L410.05,307.83 L410.32,309.03 L410.59,310.24 L410.85,311.44 L411.10,312.64 L411.34,313.85 L411.57,315.05 L411.80,316.25 L412.01,317.46 L412.22,318.66 L412.42,319.86 L412.61,321.06 L412.80,322.27 L412.97,323.47 L413.14,324.67 L413.30,325.87 L413.45,327.07 L413.59,328.26 L413.73,329.46 L413.85,330.66 L413.97,331.85 L414.08,333.05 L414.18,334.24 L414.27,335.43 L414.36,336.63 L414.43,337.82 L414.50,339.01 L414.56,340.19 L414.61,341.38 L414.65,342.56 L414.69,343.75 L414.71,344.93 L414.73,346.11 L414.74,347.29 L414.74,348.46 L414.73,349.64 L414.71,350.81 L414.69,351.98 L414.66,353.15 L414.62,354.32 L414.57,355.48 L414.51,356.64 L414.44,357.80 L414.37,358.96 L414.28,360.12 L414.19,361.27 L414.09,362.42 L413.98,363.57 L413.87,364.72 L413.74,365.86 L413.61,367.00 L413.47,368.14 L413.32,369.28 L413.16,370.41 L412.99,371.54 L412.82,372.67 L412.64,373.79 L412.44,374.91 L412.25,376.03 L412.04,377.14 L411.82,378.25 L411.60,379.36 L411.36,380.47 L411.12,381.57 L410.88,382.67 L410.62,383.76 L410.35,384.85 L410.08,385.94 L409.80,387.02 L409.51,388.10 L409.21,389.18 L408.90,390.25 L408.59,391.32 L408.27,392.38 L407.94,393.45 L407.60,394.50 L407.25,395.56 L406.90,396.60 L406.54,397.65 L406.17,398.69 L405.79,399.73 L405.40,400.76 L405.01,401.78 L404.61,402.81 L404.20,403.83 L403.78,404.84 L403.36,405.85 L402.92,406.85 L402.48,407.86 L402.03,408.85 L401.58,409.84 L401.11,410.83 L400.64,411.81 L400.16,412.79 L399.67,413.76 L399.18,414.72 L398.68,415.68 L398.16,416.64 L397.65,417.59 L397.12,418.54 L396.59,419.48 L396.05,420.41 L395.50,421.35 L394.95,422.27 L394.38,423.19 L393.81,424.10 L393.24,425.01 L392.65,425.92 L392.06,426.81 L391.46,427.70 L390.85,428.59 L390.24,429.47 L389.62,430.35 L388.99,431.21 L388.36,432.08 L387.71,432.93 L387.06,433.79 L386.41,434.63 L385.75,435.47 L385.08,436.30 L384.40,437.13 L383.71,437.95 L383.02,438.77 L382.33,439.58 L381.62,440.38 L380.91,441.17 L380.19,441.96 L379.47,442.75 L378.74,443.53 L378.00,444.30 L377.25,445.06 L376.50,445.82Z" fill="none" stroke="url(#gn)" stroke-width="3.8" filter="url(#b07)"/>
</g>
</svg>
<div class="tx">
<div class="w" style="left:30.52px;top:40.8px;transform:scaleX(0.991);-webkit-text-stroke-width:0.36px">G</div>
<div class="w" style="left:58.76px;top:40.8px;transform:scaleX(0.780);-webkit-text-stroke-width:0.48px">E</div>
<div class="w" style="left:77.96px;top:40.8px;transform:scaleX(1.163);-webkit-text-stroke-width:0.35px">N</div>
<div class="w" style="left:106.95px;top:40.8px;transform:scaleX(1.092);-webkit-text-stroke-width:0.35px">D</div>
<div class="w" style="left:135.96px;top:40.8px;transform:scaleX(0.780);-webkit-text-stroke-width:0.48px">E</div>
<div class="w" style="left:155.86px;top:40.8px;transform:scaleX(0.903);-webkit-text-stroke-width:0.41px">R</div>
<div class="w" style="left:192.41px;top:40.8px;transform:scaleX(0.886);-webkit-text-stroke-width:0.42px">B</div>
<div class="w" style="left:214.83px;top:40.8px;transform:scaleX(0.878);-webkit-text-stroke-width:0.42px">R</div>
<div class="w" style="left:238.81px;top:40.8px;transform:scaleX(0.780);-webkit-text-stroke-width:0.48px">E</div>
<div class="w" style="left:260.11px;top:40.8px;transform:scaleX(0.931);-webkit-text-stroke-width:0.39px">A</div>
<div class="w" style="left:284.20px;top:40.8px;transform:scaleX(0.963);-webkit-text-stroke-width:0.37px">K</div>
<div class="w" style="left:308.27px;top:40.8px;transform:scaleX(1.105);-webkit-text-stroke-width:0.35px">D</div>
<div class="w" style="left:337.19px;top:40.8px;transform:scaleX(1.129);-webkit-text-stroke-width:0.35px">O</div>
<div class="w" style="left:367.97px;top:40.8px;transform:scaleX(1.140);-webkit-text-stroke-width:0.35px">W</div>
<div class="w" style="left:405.60px;top:40.8px;transform:scaleX(1.185);-webkit-text-stroke-width:0.35px">N</div>
<div class="w" style="left:447.99px;top:40.8px;transform:scaleX(1.129);-webkit-text-stroke-width:0.35px">O</div>
<div class="w" style="left:479.52px;top:40.8px;transform:scaleX(0.807);-webkit-text-stroke-width:0.47px">F</div>
<div class="w" style="left:511.40px;top:40.8px;transform:scaleX(0.991);-webkit-text-stroke-width:0.36px">A</div>
<div class="w" style="left:537.57px;top:40.8px;transform:scaleX(0.827);-webkit-text-stroke-width:0.45px">R</div>
<div class="w" style="left:559.87px;top:40.8px;transform:scaleX(1.043);-webkit-text-stroke-width:0.35px">T</div>
<div class="w" style="left:582.70px;top:40.8px;transform:scaleX(1.000);-webkit-text-stroke-width:0.35px">I</div>
<div class="w" style="left:596.00px;top:40.8px;transform:scaleX(1.000);-webkit-text-stroke-width:0.35px">C</div>
<div class="w" style="left:623.00px;top:40.8px;transform:scaleX(0.890);-webkit-text-stroke-width:0.42px">L</div>
<div class="w" style="left:641.70px;top:40.8px;transform:scaleX(1.000);-webkit-text-stroke-width:0.35px">I</div>
<div class="w" style="left:653.47px;top:40.8px;transform:scaleX(1.200);-webkit-text-stroke-width:0.35px">N</div>
<div class="w" style="left:683.60px;top:40.8px;transform:scaleX(1.000);-webkit-text-stroke-width:0.35px">G</div>
<div class="w" style="left:29.42px;top:81.2px;transform:scaleX(0.780);-webkit-text-stroke-width:0.48px">S</div>
<div class="w" style="left:48.37px;top:81.2px;transform:scaleX(1.043);-webkit-text-stroke-width:0.35px">T</div>
<div class="w" style="left:71.91px;top:81.2px;transform:scaleX(1.037);-webkit-text-stroke-width:0.35px">U</div>
<div class="w" style="left:98.81px;top:81.2px;transform:scaleX(1.107);-webkit-text-stroke-width:0.35px">D</div>
<div class="w" style="left:128.16px;top:81.2px;transform:scaleX(0.780);-webkit-text-stroke-width:0.48px">E</div>
<div class="w" style="left:148.75px;top:81.2px;transform:scaleX(1.168);-webkit-text-stroke-width:0.35px">N</div>
<div class="w" style="left:177.19px;top:81.2px;transform:scaleX(1.011);-webkit-text-stroke-width:0.35px">T</div>
<div class="w" style="left:199.92px;top:81.2px;transform:scaleX(0.780);-webkit-text-stroke-width:0.48px">S</div>
<div class="lg" style="top:250px;background:#800850"></div>
<div class="lg" style="top:292px;background:#112560"></div>
<div class="l" style="left:489.95px;top:249px;transform:scaleX(0.828);-webkit-text-stroke-width:0.64px">5</div>
<div class="l" style="left:502.74px;top:249px;transform:scaleX(0.550);-webkit-text-stroke-width:0.78px">1</div>
<div class="l" style="left:512.03px;top:249px;transform:scaleX(0.814);-webkit-text-stroke-width:0.64px">%</div>
<div class="l" style="left:533.71px;top:249px;transform:scaleX(0.816);-webkit-text-stroke-width:0.64px">F</div>
<div class="l" style="left:543.90px;top:249px;transform:scaleX(1.000);-webkit-text-stroke-width:0.55px">e</div>
<div class="l" style="left:555.01px;top:249px;transform:scaleX(0.993);-webkit-text-stroke-width:0.55px">m</div>
<div class="l" style="left:571.63px;top:249px;transform:scaleX(0.741);-webkit-text-stroke-width:0.68px">a</div>
<div class="l" style="left:582.15px;top:249px;transform:scaleX(1.000);-webkit-text-stroke-width:0.55px">l</div>
<div class="l" style="left:587.38px;top:249px;transform:scaleX(0.908);-webkit-text-stroke-width:0.60px">e</div>
<div class="l" style="left:489.42px;top:291px;transform:scaleX(0.962);-webkit-text-stroke-width:0.57px">4</div>
<div class="l" style="left:501.07px;top:291px;transform:scaleX(0.928);-webkit-text-stroke-width:0.59px">9</div>
<div class="l" style="left:511.61px;top:291px;transform:scaleX(0.837);-webkit-text-stroke-width:0.63px">%</div>
<div class="l" style="left:532.90px;top:291px;transform:scaleX(1.057);-webkit-text-stroke-width:0.55px">M</div>
<div class="l" style="left:551.03px;top:291px;transform:scaleX(0.750);-webkit-text-stroke-width:0.68px">a</div>
<div class="l" style="left:561.15px;top:291px;transform:scaleX(1.000);-webkit-text-stroke-width:0.55px">l</div>
<div class="l" style="left:566.39px;top:291px;transform:scaleX(0.898);-webkit-text-stroke-width:0.60px">e</div>
</div>
</body></html>
